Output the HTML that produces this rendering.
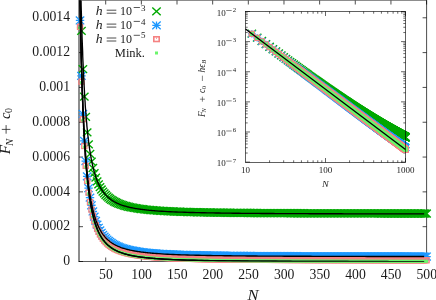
<!DOCTYPE html>
<html><head><meta charset="utf-8"><title>plot</title><style>html,body{margin:0;padding:0;background:#fff;overflow:hidden}body{width:436px;height:300px;position:relative;font-family:"Liberation Serif",serif}</style></head><body><svg width="436" height="300" viewBox="0 0 436 300" style="position:absolute;left:0;top:0;will-change:transform">
<rect width="436" height="300" fill="#fff"/>
<defs>
<path id="gx" d="M-4.2,-3.9L4.2,3.9M-4.2,3.9L4.2,-3.9" stroke="#00a800" stroke-width="1.4" fill="none"/>
<path id="bs" d="M-4.2,-3.9L4.2,3.9M-4.2,3.9L4.2,-3.9M-4.2,0L4.2,0M0,-3.9L0,3.9" stroke="#1c98ff" stroke-width="1.3" fill="none"/>
<g id="ps"><rect x="-2.55" y="-2.5" width="5.1" height="5" stroke="#f58282" stroke-width="1.3" fill="none"/><rect x="-0.5" y="-0.6" width="1" height="1.1" fill="#f58282"/></g>
<rect id="mk" x="-1.5" y="-1.5" width="3" height="3" fill="#6cf56c"/>
<rect id="mk2" x="-2" y="-2" width="4" height="4" fill="#6cf56c"/>
<path id="bs2" d="M-3.65,-3.39L3.65,3.39M-3.65,3.39L3.65,-3.39M-3.86,0L3.86,0M0,-3.59L0,3.59" stroke="#1c98ff" stroke-width="1.3" fill="none"/>
<clipPath id="cm"><rect x="79" y="0.5" width="347.6" height="261"/></clipPath>
</defs>
<path d="M79.0,-0.5V261.8" stroke="#000" stroke-width="0.9"/>
<path d="M78.6,261.5H426.90000000000003" stroke="#000" stroke-width="0.65"/>
<path d="M426.6,-0.5V261.8" stroke="#000" stroke-width="0.7"/>
<path d="M79.0,0.25H426.6" stroke="#000" stroke-width="0.6"/>
<path d="M105.70,261.5v-4M105.70,0.5v4M141.36,261.5v-4M141.36,0.5v4M177.01,261.5v-4M177.01,0.5v4M212.66,261.5v-4M212.66,0.5v4M248.32,261.5v-4M248.32,0.5v4M283.97,261.5v-4M283.97,0.5v4M319.63,261.5v-4M319.63,0.5v4M355.28,261.5v-4M355.28,0.5v4M390.94,261.5v-4M390.94,0.5v4M426.59,261.5v-4M426.59,0.5v4M79.0,261.50h4M426.6,261.50h-4M79.0,226.68h4M426.6,226.68h-4M79.0,191.87h4M426.6,191.87h-4M79.0,157.05h4M426.6,157.05h-4M79.0,122.24h4M426.6,122.24h-4M79.0,87.42h4M426.6,87.42h-4M79.0,52.60h4M426.6,52.60h-4M79.0,17.79h4M426.6,17.79h-4" stroke="#000" stroke-width="0.7" fill="none"/>
<g><use href="#gx" x="81.45" y="30.80"/><use href="#gx" x="82.88" y="69.19"/><use href="#gx" x="84.31" y="96.65"/><use href="#gx" x="85.73" y="116.96"/><use href="#gx" x="87.16" y="132.42"/><use href="#gx" x="88.59" y="144.44"/><use href="#gx" x="90.01" y="153.99"/><use href="#gx" x="91.44" y="161.68"/><use href="#gx" x="92.86" y="167.99"/><use href="#gx" x="94.29" y="173.21"/><use href="#gx" x="95.72" y="177.58"/><use href="#gx" x="97.14" y="181.29"/><use href="#gx" x="98.57" y="184.45"/><use href="#gx" x="100.00" y="187.17"/><use href="#gx" x="101.42" y="189.53"/><use href="#gx" x="102.85" y="191.58"/><use href="#gx" x="104.27" y="193.39"/><use href="#gx" x="105.70" y="194.98"/><use href="#gx" x="107.13" y="196.40"/><use href="#gx" x="108.55" y="197.66"/><use href="#gx" x="109.98" y="198.78"/><use href="#gx" x="111.40" y="199.79"/><use href="#gx" x="112.83" y="200.71"/><use href="#gx" x="114.26" y="201.53"/><use href="#gx" x="115.68" y="202.28"/><use href="#gx" x="117.11" y="202.96"/><use href="#gx" x="118.54" y="203.59"/><use href="#gx" x="119.96" y="204.16"/><use href="#gx" x="121.39" y="204.68"/><use href="#gx" x="122.81" y="205.16"/><use href="#gx" x="124.24" y="205.61"/><use href="#gx" x="125.67" y="206.02"/><use href="#gx" x="127.09" y="206.40"/><use href="#gx" x="128.52" y="206.75"/><use href="#gx" x="129.95" y="207.08"/><use href="#gx" x="131.37" y="207.38"/><use href="#gx" x="132.80" y="207.67"/><use href="#gx" x="134.22" y="207.93"/><use href="#gx" x="135.65" y="208.18"/><use href="#gx" x="137.08" y="208.42"/><use href="#gx" x="138.50" y="208.63"/><use href="#gx" x="139.93" y="208.84"/><use href="#gx" x="141.36" y="209.03"/><use href="#gx" x="142.78" y="209.21"/><use href="#gx" x="144.21" y="209.39"/><use href="#gx" x="145.63" y="209.55"/><use href="#gx" x="147.06" y="209.70"/><use href="#gx" x="148.49" y="209.84"/><use href="#gx" x="149.91" y="209.98"/><use href="#gx" x="151.34" y="210.11"/><use href="#gx" x="152.76" y="210.23"/><use href="#gx" x="154.19" y="210.35"/><use href="#gx" x="155.62" y="210.46"/><use href="#gx" x="157.04" y="210.57"/><use href="#gx" x="158.47" y="210.67"/><use href="#gx" x="159.90" y="210.77"/><use href="#gx" x="161.32" y="210.86"/><use href="#gx" x="162.75" y="210.94"/><use href="#gx" x="164.17" y="211.03"/><use href="#gx" x="165.60" y="211.11"/><use href="#gx" x="167.03" y="211.18"/><use href="#gx" x="168.45" y="211.26"/><use href="#gx" x="169.88" y="211.33"/><use href="#gx" x="171.31" y="211.39"/><use href="#gx" x="172.73" y="211.46"/><use href="#gx" x="174.16" y="211.52"/><use href="#gx" x="175.58" y="211.58"/><use href="#gx" x="177.01" y="211.63"/><use href="#gx" x="178.44" y="211.69"/><use href="#gx" x="179.86" y="211.74"/><use href="#gx" x="181.29" y="211.79"/><use href="#gx" x="182.71" y="211.84"/><use href="#gx" x="184.14" y="211.89"/><use href="#gx" x="185.57" y="211.93"/><use href="#gx" x="186.99" y="211.97"/><use href="#gx" x="188.42" y="212.02"/><use href="#gx" x="189.85" y="212.06"/><use href="#gx" x="191.27" y="212.09"/><use href="#gx" x="192.70" y="212.13"/><use href="#gx" x="194.12" y="212.17"/><use href="#gx" x="195.55" y="212.20"/><use href="#gx" x="196.98" y="212.24"/><use href="#gx" x="198.40" y="212.27"/><use href="#gx" x="199.83" y="212.30"/><use href="#gx" x="201.26" y="212.33"/><use href="#gx" x="202.68" y="212.36"/><use href="#gx" x="204.11" y="212.39"/><use href="#gx" x="205.53" y="212.42"/><use href="#gx" x="206.96" y="212.44"/><use href="#gx" x="208.39" y="212.47"/><use href="#gx" x="209.81" y="212.50"/><use href="#gx" x="211.24" y="212.52"/><use href="#gx" x="212.66" y="212.54"/><use href="#gx" x="214.09" y="212.57"/><use href="#gx" x="215.52" y="212.59"/><use href="#gx" x="216.94" y="212.61"/><use href="#gx" x="218.37" y="212.63"/><use href="#gx" x="219.80" y="212.65"/><use href="#gx" x="221.22" y="212.67"/><use href="#gx" x="222.65" y="212.69"/><use href="#gx" x="224.07" y="212.71"/><use href="#gx" x="225.50" y="212.73"/><use href="#gx" x="226.93" y="212.75"/><use href="#gx" x="228.35" y="212.76"/><use href="#gx" x="229.78" y="212.78"/><use href="#gx" x="231.21" y="212.80"/><use href="#gx" x="232.63" y="212.81"/><use href="#gx" x="234.06" y="212.83"/><use href="#gx" x="235.48" y="212.85"/><use href="#gx" x="236.91" y="212.86"/><use href="#gx" x="238.34" y="212.87"/><use href="#gx" x="239.76" y="212.89"/><use href="#gx" x="241.19" y="212.90"/><use href="#gx" x="242.62" y="212.92"/><use href="#gx" x="244.04" y="212.93"/><use href="#gx" x="245.47" y="212.94"/><use href="#gx" x="246.89" y="212.95"/><use href="#gx" x="248.32" y="212.97"/><use href="#gx" x="249.75" y="212.98"/><use href="#gx" x="251.17" y="212.99"/><use href="#gx" x="252.60" y="213.00"/><use href="#gx" x="254.02" y="213.01"/><use href="#gx" x="255.45" y="213.02"/><use href="#gx" x="256.88" y="213.03"/><use href="#gx" x="258.30" y="213.04"/><use href="#gx" x="259.73" y="213.05"/><use href="#gx" x="261.16" y="213.06"/><use href="#gx" x="262.58" y="213.07"/><use href="#gx" x="264.01" y="213.08"/><use href="#gx" x="265.43" y="213.09"/><use href="#gx" x="266.86" y="213.10"/><use href="#gx" x="268.29" y="213.11"/><use href="#gx" x="269.71" y="213.12"/><use href="#gx" x="271.14" y="213.13"/><use href="#gx" x="272.57" y="213.13"/><use href="#gx" x="273.99" y="213.14"/><use href="#gx" x="275.42" y="213.15"/><use href="#gx" x="276.84" y="213.16"/><use href="#gx" x="278.27" y="213.17"/><use href="#gx" x="279.70" y="213.17"/><use href="#gx" x="281.12" y="213.18"/><use href="#gx" x="282.55" y="213.19"/><use href="#gx" x="283.97" y="213.19"/><use href="#gx" x="285.40" y="213.20"/><use href="#gx" x="286.83" y="213.21"/><use href="#gx" x="288.25" y="213.21"/><use href="#gx" x="289.68" y="213.22"/><use href="#gx" x="291.11" y="213.23"/><use href="#gx" x="292.53" y="213.23"/><use href="#gx" x="293.96" y="213.24"/><use href="#gx" x="295.38" y="213.25"/><use href="#gx" x="296.81" y="213.25"/><use href="#gx" x="298.24" y="213.26"/><use href="#gx" x="299.66" y="213.26"/><use href="#gx" x="301.09" y="213.27"/><use href="#gx" x="302.52" y="213.27"/><use href="#gx" x="303.94" y="213.28"/><use href="#gx" x="305.37" y="213.29"/><use href="#gx" x="306.79" y="213.29"/><use href="#gx" x="308.22" y="213.30"/><use href="#gx" x="309.65" y="213.30"/><use href="#gx" x="311.07" y="213.31"/><use href="#gx" x="312.50" y="213.31"/><use href="#gx" x="313.93" y="213.31"/><use href="#gx" x="315.35" y="213.32"/><use href="#gx" x="316.78" y="213.32"/><use href="#gx" x="318.20" y="213.33"/><use href="#gx" x="319.63" y="213.33"/><use href="#gx" x="321.06" y="213.34"/><use href="#gx" x="322.48" y="213.34"/><use href="#gx" x="323.91" y="213.35"/><use href="#gx" x="325.33" y="213.35"/><use href="#gx" x="326.76" y="213.35"/><use href="#gx" x="328.19" y="213.36"/><use href="#gx" x="329.61" y="213.36"/><use href="#gx" x="331.04" y="213.37"/><use href="#gx" x="332.47" y="213.37"/><use href="#gx" x="333.89" y="213.37"/><use href="#gx" x="335.32" y="213.38"/><use href="#gx" x="336.74" y="213.38"/><use href="#gx" x="338.17" y="213.38"/><use href="#gx" x="339.60" y="213.39"/><use href="#gx" x="341.02" y="213.39"/><use href="#gx" x="342.45" y="213.39"/><use href="#gx" x="343.88" y="213.40"/><use href="#gx" x="345.30" y="213.40"/><use href="#gx" x="346.73" y="213.40"/><use href="#gx" x="348.15" y="213.41"/><use href="#gx" x="349.58" y="213.41"/><use href="#gx" x="351.01" y="213.41"/><use href="#gx" x="352.43" y="213.42"/><use href="#gx" x="353.86" y="213.42"/><use href="#gx" x="355.28" y="213.42"/><use href="#gx" x="356.71" y="213.43"/><use href="#gx" x="358.14" y="213.43"/><use href="#gx" x="359.56" y="213.43"/><use href="#gx" x="360.99" y="213.43"/><use href="#gx" x="362.42" y="213.44"/><use href="#gx" x="363.84" y="213.44"/><use href="#gx" x="365.27" y="213.44"/><use href="#gx" x="366.69" y="213.44"/><use href="#gx" x="368.12" y="213.45"/><use href="#gx" x="369.55" y="213.45"/><use href="#gx" x="370.97" y="213.45"/><use href="#gx" x="372.40" y="213.45"/><use href="#gx" x="373.83" y="213.46"/><use href="#gx" x="375.25" y="213.46"/><use href="#gx" x="376.68" y="213.46"/><use href="#gx" x="378.10" y="213.46"/><use href="#gx" x="379.53" y="213.47"/><use href="#gx" x="380.96" y="213.47"/><use href="#gx" x="382.38" y="213.47"/><use href="#gx" x="383.81" y="213.47"/><use href="#gx" x="385.24" y="213.48"/><use href="#gx" x="386.66" y="213.48"/><use href="#gx" x="388.09" y="213.48"/><use href="#gx" x="389.51" y="213.48"/><use href="#gx" x="390.94" y="213.48"/><use href="#gx" x="392.37" y="213.49"/><use href="#gx" x="393.79" y="213.49"/><use href="#gx" x="395.22" y="213.49"/><use href="#gx" x="396.64" y="213.49"/><use href="#gx" x="398.07" y="213.49"/><use href="#gx" x="399.50" y="213.50"/><use href="#gx" x="400.92" y="213.50"/><use href="#gx" x="402.35" y="213.50"/><use href="#gx" x="403.78" y="213.50"/><use href="#gx" x="405.20" y="213.50"/><use href="#gx" x="406.63" y="213.50"/><use href="#gx" x="408.05" y="213.51"/><use href="#gx" x="409.48" y="213.51"/><use href="#gx" x="410.91" y="213.51"/><use href="#gx" x="412.33" y="213.51"/><use href="#gx" x="413.76" y="213.51"/><use href="#gx" x="415.19" y="213.52"/><use href="#gx" x="416.61" y="213.52"/><use href="#gx" x="418.04" y="213.52"/><use href="#gx" x="419.46" y="213.52"/><use href="#gx" x="420.89" y="213.52"/><use href="#gx" x="422.32" y="213.52"/><use href="#gx" x="423.74" y="213.52"/><use href="#gx" x="425.17" y="213.53"/><use href="#gx" x="426.59" y="213.53"/></g>
<g><use href="#bs" x="80.03" y="20.46"/><use href="#bs" x="81.45" y="75.83"/><use href="#bs" x="82.88" y="113.80"/><use href="#bs" x="84.31" y="140.95"/><use href="#bs" x="85.73" y="161.04"/><use href="#bs" x="87.16" y="176.32"/><use href="#bs" x="88.59" y="188.21"/><use href="#bs" x="90.01" y="197.65"/><use href="#bs" x="91.44" y="205.26"/><use href="#bs" x="92.86" y="211.49"/><use href="#bs" x="94.29" y="216.66"/><use href="#bs" x="95.72" y="220.98"/><use href="#bs" x="97.14" y="224.65"/><use href="#bs" x="98.57" y="227.77"/><use href="#bs" x="100.00" y="230.46"/><use href="#bs" x="101.42" y="232.79"/><use href="#bs" x="102.85" y="234.83"/><use href="#bs" x="104.27" y="236.62"/><use href="#bs" x="105.70" y="238.19"/><use href="#bs" x="107.13" y="239.59"/><use href="#bs" x="108.55" y="240.83"/><use href="#bs" x="109.98" y="241.95"/><use href="#bs" x="111.40" y="242.95"/><use href="#bs" x="112.83" y="243.85"/><use href="#bs" x="114.26" y="244.67"/><use href="#bs" x="115.68" y="245.41"/><use href="#bs" x="117.11" y="246.08"/><use href="#bs" x="118.54" y="246.70"/><use href="#bs" x="119.96" y="247.26"/><use href="#bs" x="121.39" y="247.78"/><use href="#bs" x="122.81" y="248.26"/><use href="#bs" x="124.24" y="248.70"/><use href="#bs" x="125.67" y="249.10"/><use href="#bs" x="127.09" y="249.48"/><use href="#bs" x="128.52" y="249.83"/><use href="#bs" x="129.95" y="250.15"/><use href="#bs" x="131.37" y="250.45"/><use href="#bs" x="132.80" y="250.73"/><use href="#bs" x="134.22" y="251.00"/><use href="#bs" x="135.65" y="251.24"/><use href="#bs" x="137.08" y="251.47"/><use href="#bs" x="138.50" y="251.69"/><use href="#bs" x="139.93" y="251.89"/><use href="#bs" x="141.36" y="252.08"/><use href="#bs" x="142.78" y="252.26"/><use href="#bs" x="144.21" y="252.43"/><use href="#bs" x="145.63" y="252.59"/><use href="#bs" x="147.06" y="252.74"/><use href="#bs" x="148.49" y="252.89"/><use href="#bs" x="149.91" y="253.02"/><use href="#bs" x="151.34" y="253.15"/><use href="#bs" x="152.76" y="253.27"/><use href="#bs" x="154.19" y="253.39"/><use href="#bs" x="155.62" y="253.50"/><use href="#bs" x="157.04" y="253.60"/><use href="#bs" x="158.47" y="253.70"/><use href="#bs" x="159.90" y="253.80"/><use href="#bs" x="161.32" y="253.89"/><use href="#bs" x="162.75" y="253.97"/><use href="#bs" x="164.17" y="254.06"/><use href="#bs" x="165.60" y="254.13"/><use href="#bs" x="167.03" y="254.21"/><use href="#bs" x="168.45" y="254.28"/><use href="#bs" x="169.88" y="254.35"/><use href="#bs" x="171.31" y="254.42"/><use href="#bs" x="172.73" y="254.48"/><use href="#bs" x="174.16" y="254.54"/><use href="#bs" x="175.58" y="254.60"/><use href="#bs" x="177.01" y="254.65"/><use href="#bs" x="178.44" y="254.71"/><use href="#bs" x="179.86" y="254.76"/><use href="#bs" x="181.29" y="254.81"/><use href="#bs" x="182.71" y="254.86"/><use href="#bs" x="184.14" y="254.90"/><use href="#bs" x="185.57" y="254.95"/><use href="#bs" x="186.99" y="254.99"/><use href="#bs" x="188.42" y="255.03"/><use href="#bs" x="189.85" y="255.07"/><use href="#bs" x="191.27" y="255.11"/><use href="#bs" x="192.70" y="255.15"/><use href="#bs" x="194.12" y="255.18"/><use href="#bs" x="195.55" y="255.22"/><use href="#bs" x="196.98" y="255.25"/><use href="#bs" x="198.40" y="255.28"/><use href="#bs" x="199.83" y="255.31"/><use href="#bs" x="201.26" y="255.35"/><use href="#bs" x="202.68" y="255.37"/><use href="#bs" x="204.11" y="255.40"/><use href="#bs" x="205.53" y="255.43"/><use href="#bs" x="206.96" y="255.46"/><use href="#bs" x="208.39" y="255.48"/><use href="#bs" x="209.81" y="255.51"/><use href="#bs" x="211.24" y="255.53"/><use href="#bs" x="212.66" y="255.56"/><use href="#bs" x="214.09" y="255.58"/><use href="#bs" x="215.52" y="255.60"/><use href="#bs" x="216.94" y="255.62"/><use href="#bs" x="218.37" y="255.64"/><use href="#bs" x="219.80" y="255.66"/><use href="#bs" x="221.22" y="255.68"/><use href="#bs" x="222.65" y="255.70"/><use href="#bs" x="224.07" y="255.72"/><use href="#bs" x="225.50" y="255.74"/><use href="#bs" x="226.93" y="255.76"/><use href="#bs" x="228.35" y="255.77"/><use href="#bs" x="229.78" y="255.79"/><use href="#bs" x="231.21" y="255.81"/><use href="#bs" x="232.63" y="255.82"/><use href="#bs" x="234.06" y="255.84"/><use href="#bs" x="235.48" y="255.85"/><use href="#bs" x="236.91" y="255.87"/><use href="#bs" x="238.34" y="255.88"/><use href="#bs" x="239.76" y="255.90"/><use href="#bs" x="241.19" y="255.91"/><use href="#bs" x="242.62" y="255.92"/><use href="#bs" x="244.04" y="255.94"/><use href="#bs" x="245.47" y="255.95"/><use href="#bs" x="246.89" y="255.96"/><use href="#bs" x="248.32" y="255.97"/><use href="#bs" x="249.75" y="255.98"/><use href="#bs" x="251.17" y="256.00"/><use href="#bs" x="252.60" y="256.01"/><use href="#bs" x="254.02" y="256.02"/><use href="#bs" x="255.45" y="256.03"/><use href="#bs" x="256.88" y="256.04"/><use href="#bs" x="258.30" y="256.05"/><use href="#bs" x="259.73" y="256.06"/><use href="#bs" x="261.16" y="256.07"/><use href="#bs" x="262.58" y="256.08"/><use href="#bs" x="264.01" y="256.09"/><use href="#bs" x="265.43" y="256.10"/><use href="#bs" x="266.86" y="256.10"/><use href="#bs" x="268.29" y="256.11"/><use href="#bs" x="269.71" y="256.12"/><use href="#bs" x="271.14" y="256.13"/><use href="#bs" x="272.57" y="256.14"/><use href="#bs" x="273.99" y="256.15"/><use href="#bs" x="275.42" y="256.15"/><use href="#bs" x="276.84" y="256.16"/><use href="#bs" x="278.27" y="256.17"/><use href="#bs" x="279.70" y="256.18"/><use href="#bs" x="281.12" y="256.18"/><use href="#bs" x="282.55" y="256.19"/><use href="#bs" x="283.97" y="256.20"/><use href="#bs" x="285.40" y="256.21"/><use href="#bs" x="286.83" y="256.21"/><use href="#bs" x="288.25" y="256.22"/><use href="#bs" x="289.68" y="256.22"/><use href="#bs" x="291.11" y="256.23"/><use href="#bs" x="292.53" y="256.24"/><use href="#bs" x="293.96" y="256.24"/><use href="#bs" x="295.38" y="256.25"/><use href="#bs" x="296.81" y="256.25"/><use href="#bs" x="298.24" y="256.26"/><use href="#bs" x="299.66" y="256.27"/><use href="#bs" x="301.09" y="256.27"/><use href="#bs" x="302.52" y="256.28"/><use href="#bs" x="303.94" y="256.28"/><use href="#bs" x="305.37" y="256.29"/><use href="#bs" x="306.79" y="256.29"/><use href="#bs" x="308.22" y="256.30"/><use href="#bs" x="309.65" y="256.30"/><use href="#bs" x="311.07" y="256.31"/><use href="#bs" x="312.50" y="256.31"/><use href="#bs" x="313.93" y="256.32"/><use href="#bs" x="315.35" y="256.32"/><use href="#bs" x="316.78" y="256.33"/><use href="#bs" x="318.20" y="256.33"/><use href="#bs" x="319.63" y="256.33"/><use href="#bs" x="321.06" y="256.34"/><use href="#bs" x="322.48" y="256.34"/><use href="#bs" x="323.91" y="256.35"/><use href="#bs" x="325.33" y="256.35"/><use href="#bs" x="326.76" y="256.36"/><use href="#bs" x="328.19" y="256.36"/><use href="#bs" x="329.61" y="256.36"/><use href="#bs" x="331.04" y="256.37"/><use href="#bs" x="332.47" y="256.37"/><use href="#bs" x="333.89" y="256.37"/><use href="#bs" x="335.32" y="256.38"/><use href="#bs" x="336.74" y="256.38"/><use href="#bs" x="338.17" y="256.39"/><use href="#bs" x="339.60" y="256.39"/><use href="#bs" x="341.02" y="256.39"/><use href="#bs" x="342.45" y="256.40"/><use href="#bs" x="343.88" y="256.40"/><use href="#bs" x="345.30" y="256.40"/><use href="#bs" x="346.73" y="256.41"/><use href="#bs" x="348.15" y="256.41"/><use href="#bs" x="349.58" y="256.41"/><use href="#bs" x="351.01" y="256.41"/><use href="#bs" x="352.43" y="256.42"/><use href="#bs" x="353.86" y="256.42"/><use href="#bs" x="355.28" y="256.42"/><use href="#bs" x="356.71" y="256.43"/><use href="#bs" x="358.14" y="256.43"/><use href="#bs" x="359.56" y="256.43"/><use href="#bs" x="360.99" y="256.43"/><use href="#bs" x="362.42" y="256.44"/><use href="#bs" x="363.84" y="256.44"/><use href="#bs" x="365.27" y="256.44"/><use href="#bs" x="366.69" y="256.45"/><use href="#bs" x="368.12" y="256.45"/><use href="#bs" x="369.55" y="256.45"/><use href="#bs" x="370.97" y="256.45"/><use href="#bs" x="372.40" y="256.46"/><use href="#bs" x="373.83" y="256.46"/><use href="#bs" x="375.25" y="256.46"/><use href="#bs" x="376.68" y="256.46"/><use href="#bs" x="378.10" y="256.46"/><use href="#bs" x="379.53" y="256.47"/><use href="#bs" x="380.96" y="256.47"/><use href="#bs" x="382.38" y="256.47"/><use href="#bs" x="383.81" y="256.47"/><use href="#bs" x="385.24" y="256.48"/><use href="#bs" x="386.66" y="256.48"/><use href="#bs" x="388.09" y="256.48"/><use href="#bs" x="389.51" y="256.48"/><use href="#bs" x="390.94" y="256.48"/><use href="#bs" x="392.37" y="256.49"/><use href="#bs" x="393.79" y="256.49"/><use href="#bs" x="395.22" y="256.49"/><use href="#bs" x="396.64" y="256.49"/><use href="#bs" x="398.07" y="256.49"/><use href="#bs" x="399.50" y="256.50"/><use href="#bs" x="400.92" y="256.50"/><use href="#bs" x="402.35" y="256.50"/><use href="#bs" x="403.78" y="256.50"/><use href="#bs" x="405.20" y="256.50"/><use href="#bs" x="406.63" y="256.50"/><use href="#bs" x="408.05" y="256.51"/><use href="#bs" x="409.48" y="256.51"/><use href="#bs" x="410.91" y="256.51"/><use href="#bs" x="412.33" y="256.51"/><use href="#bs" x="413.76" y="256.51"/><use href="#bs" x="415.19" y="256.52"/><use href="#bs" x="416.61" y="256.52"/><use href="#bs" x="418.04" y="256.52"/><use href="#bs" x="419.46" y="256.52"/><use href="#bs" x="420.89" y="256.52"/><use href="#bs" x="422.32" y="256.52"/><use href="#bs" x="423.74" y="256.52"/><use href="#bs" x="425.17" y="256.53"/><use href="#bs" x="426.59" y="256.53"/></g>
<g><use href="#ps" x="80.03" y="26.87"/><use href="#ps" x="81.45" y="81.62"/><use href="#ps" x="82.88" y="119.15"/><use href="#ps" x="84.31" y="146.00"/><use href="#ps" x="85.73" y="165.86"/><use href="#ps" x="87.16" y="180.97"/><use href="#ps" x="88.59" y="192.73"/><use href="#ps" x="90.01" y="202.06"/><use href="#ps" x="91.44" y="209.59"/><use href="#ps" x="92.86" y="215.75"/><use href="#ps" x="94.29" y="220.85"/><use href="#ps" x="95.72" y="225.13"/><use href="#ps" x="97.14" y="228.75"/><use href="#ps" x="98.57" y="231.84"/><use href="#ps" x="100.00" y="234.50"/><use href="#ps" x="101.42" y="236.81"/><use href="#ps" x="102.85" y="238.82"/><use href="#ps" x="104.27" y="240.58"/><use href="#ps" x="105.70" y="242.14"/><use href="#ps" x="107.13" y="243.52"/><use href="#ps" x="108.55" y="244.75"/><use href="#ps" x="109.98" y="245.86"/><use href="#ps" x="111.40" y="246.85"/><use href="#ps" x="112.83" y="247.74"/><use href="#ps" x="114.26" y="248.55"/><use href="#ps" x="115.68" y="249.28"/><use href="#ps" x="117.11" y="249.95"/><use href="#ps" x="118.54" y="250.55"/><use href="#ps" x="119.96" y="251.11"/><use href="#ps" x="121.39" y="251.62"/><use href="#ps" x="122.81" y="252.09"/><use href="#ps" x="124.24" y="252.53"/><use href="#ps" x="125.67" y="252.93"/><use href="#ps" x="127.09" y="253.30"/><use href="#ps" x="128.52" y="253.65"/><use href="#ps" x="129.95" y="253.97"/><use href="#ps" x="131.37" y="254.27"/><use href="#ps" x="132.80" y="254.54"/><use href="#ps" x="134.22" y="254.80"/><use href="#ps" x="135.65" y="255.05"/><use href="#ps" x="137.08" y="255.27"/><use href="#ps" x="138.50" y="255.49"/><use href="#ps" x="139.93" y="255.69"/><use href="#ps" x="141.36" y="255.88"/><use href="#ps" x="142.78" y="256.05"/><use href="#ps" x="144.21" y="256.22"/><use href="#ps" x="145.63" y="256.38"/><use href="#ps" x="147.06" y="256.53"/><use href="#ps" x="148.49" y="256.67"/><use href="#ps" x="149.91" y="256.81"/><use href="#ps" x="151.34" y="256.93"/><use href="#ps" x="152.76" y="257.05"/><use href="#ps" x="154.19" y="257.17"/><use href="#ps" x="155.62" y="257.28"/><use href="#ps" x="157.04" y="257.38"/><use href="#ps" x="158.47" y="257.48"/><use href="#ps" x="159.90" y="257.57"/><use href="#ps" x="161.32" y="257.66"/><use href="#ps" x="162.75" y="257.75"/><use href="#ps" x="164.17" y="257.83"/><use href="#ps" x="165.60" y="257.91"/><use href="#ps" x="167.03" y="257.98"/><use href="#ps" x="168.45" y="258.05"/><use href="#ps" x="169.88" y="258.12"/><use href="#ps" x="171.31" y="258.18"/><use href="#ps" x="172.73" y="258.25"/><use href="#ps" x="174.16" y="258.31"/><use href="#ps" x="175.58" y="258.37"/><use href="#ps" x="177.01" y="258.42"/><use href="#ps" x="178.44" y="258.47"/><use href="#ps" x="179.86" y="258.53"/><use href="#ps" x="181.29" y="258.57"/><use href="#ps" x="182.71" y="258.62"/><use href="#ps" x="184.14" y="258.67"/><use href="#ps" x="185.57" y="258.71"/><use href="#ps" x="186.99" y="258.75"/><use href="#ps" x="188.42" y="258.79"/><use href="#ps" x="189.85" y="258.83"/><use href="#ps" x="191.27" y="258.87"/><use href="#ps" x="192.70" y="258.91"/><use href="#ps" x="194.12" y="258.94"/><use href="#ps" x="195.55" y="258.98"/><use href="#ps" x="196.98" y="259.01"/><use href="#ps" x="198.40" y="259.04"/><use href="#ps" x="199.83" y="259.07"/><use href="#ps" x="201.26" y="259.10"/><use href="#ps" x="202.68" y="259.13"/><use href="#ps" x="204.11" y="259.16"/><use href="#ps" x="205.53" y="259.19"/><use href="#ps" x="206.96" y="259.21"/><use href="#ps" x="208.39" y="259.24"/><use href="#ps" x="209.81" y="259.26"/><use href="#ps" x="211.24" y="259.29"/><use href="#ps" x="212.66" y="259.31"/><use href="#ps" x="214.09" y="259.33"/><use href="#ps" x="215.52" y="259.36"/><use href="#ps" x="216.94" y="259.38"/><use href="#ps" x="218.37" y="259.40"/><use href="#ps" x="219.80" y="259.42"/><use href="#ps" x="221.22" y="259.44"/><use href="#ps" x="222.65" y="259.46"/><use href="#ps" x="224.07" y="259.47"/><use href="#ps" x="225.50" y="259.49"/><use href="#ps" x="226.93" y="259.51"/><use href="#ps" x="228.35" y="259.53"/><use href="#ps" x="229.78" y="259.54"/><use href="#ps" x="231.21" y="259.56"/><use href="#ps" x="232.63" y="259.57"/><use href="#ps" x="234.06" y="259.59"/><use href="#ps" x="235.48" y="259.60"/><use href="#ps" x="236.91" y="259.62"/><use href="#ps" x="238.34" y="259.63"/><use href="#ps" x="239.76" y="259.65"/><use href="#ps" x="241.19" y="259.66"/><use href="#ps" x="242.62" y="259.67"/><use href="#ps" x="244.04" y="259.69"/><use href="#ps" x="245.47" y="259.70"/><use href="#ps" x="246.89" y="259.71"/><use href="#ps" x="248.32" y="259.72"/><use href="#ps" x="249.75" y="259.73"/><use href="#ps" x="251.17" y="259.75"/><use href="#ps" x="252.60" y="259.76"/><use href="#ps" x="254.02" y="259.77"/><use href="#ps" x="255.45" y="259.78"/><use href="#ps" x="256.88" y="259.79"/><use href="#ps" x="258.30" y="259.80"/><use href="#ps" x="259.73" y="259.81"/><use href="#ps" x="261.16" y="259.82"/><use href="#ps" x="262.58" y="259.83"/><use href="#ps" x="264.01" y="259.84"/><use href="#ps" x="265.43" y="259.85"/><use href="#ps" x="266.86" y="259.85"/><use href="#ps" x="268.29" y="259.86"/><use href="#ps" x="269.71" y="259.87"/><use href="#ps" x="271.14" y="259.88"/><use href="#ps" x="272.57" y="259.89"/><use href="#ps" x="273.99" y="259.90"/><use href="#ps" x="275.42" y="259.90"/><use href="#ps" x="276.84" y="259.91"/><use href="#ps" x="278.27" y="259.92"/><use href="#ps" x="279.70" y="259.93"/><use href="#ps" x="281.12" y="259.93"/><use href="#ps" x="282.55" y="259.94"/><use href="#ps" x="283.97" y="259.95"/><use href="#ps" x="285.40" y="259.95"/><use href="#ps" x="286.83" y="259.96"/><use href="#ps" x="288.25" y="259.97"/><use href="#ps" x="289.68" y="259.97"/><use href="#ps" x="291.11" y="259.98"/><use href="#ps" x="292.53" y="259.99"/><use href="#ps" x="293.96" y="259.99"/><use href="#ps" x="295.38" y="260.00"/><use href="#ps" x="296.81" y="260.00"/><use href="#ps" x="298.24" y="260.01"/><use href="#ps" x="299.66" y="260.01"/><use href="#ps" x="301.09" y="260.02"/><use href="#ps" x="302.52" y="260.02"/><use href="#ps" x="303.94" y="260.03"/><use href="#ps" x="305.37" y="260.04"/><use href="#ps" x="306.79" y="260.04"/><use href="#ps" x="308.22" y="260.05"/><use href="#ps" x="309.65" y="260.05"/><use href="#ps" x="311.07" y="260.05"/><use href="#ps" x="312.50" y="260.06"/><use href="#ps" x="313.93" y="260.06"/><use href="#ps" x="315.35" y="260.07"/><use href="#ps" x="316.78" y="260.07"/><use href="#ps" x="318.20" y="260.08"/><use href="#ps" x="319.63" y="260.08"/><use href="#ps" x="321.06" y="260.09"/><use href="#ps" x="322.48" y="260.09"/><use href="#ps" x="323.91" y="260.09"/><use href="#ps" x="325.33" y="260.10"/><use href="#ps" x="326.76" y="260.10"/><use href="#ps" x="328.19" y="260.11"/><use href="#ps" x="329.61" y="260.11"/><use href="#ps" x="331.04" y="260.11"/><use href="#ps" x="332.47" y="260.12"/><use href="#ps" x="333.89" y="260.12"/><use href="#ps" x="335.32" y="260.12"/><use href="#ps" x="336.74" y="260.13"/><use href="#ps" x="338.17" y="260.13"/><use href="#ps" x="339.60" y="260.14"/><use href="#ps" x="341.02" y="260.14"/><use href="#ps" x="342.45" y="260.14"/><use href="#ps" x="343.88" y="260.15"/><use href="#ps" x="345.30" y="260.15"/><use href="#ps" x="346.73" y="260.15"/><use href="#ps" x="348.15" y="260.15"/><use href="#ps" x="349.58" y="260.16"/><use href="#ps" x="351.01" y="260.16"/><use href="#ps" x="352.43" y="260.16"/><use href="#ps" x="353.86" y="260.17"/><use href="#ps" x="355.28" y="260.17"/><use href="#ps" x="356.71" y="260.17"/><use href="#ps" x="358.14" y="260.18"/><use href="#ps" x="359.56" y="260.18"/><use href="#ps" x="360.99" y="260.18"/><use href="#ps" x="362.42" y="260.18"/><use href="#ps" x="363.84" y="260.19"/><use href="#ps" x="365.27" y="260.19"/><use href="#ps" x="366.69" y="260.19"/><use href="#ps" x="368.12" y="260.19"/><use href="#ps" x="369.55" y="260.20"/><use href="#ps" x="370.97" y="260.20"/><use href="#ps" x="372.40" y="260.20"/><use href="#ps" x="373.83" y="260.20"/><use href="#ps" x="375.25" y="260.21"/><use href="#ps" x="376.68" y="260.21"/><use href="#ps" x="378.10" y="260.21"/><use href="#ps" x="379.53" y="260.21"/><use href="#ps" x="380.96" y="260.21"/><use href="#ps" x="382.38" y="260.22"/><use href="#ps" x="383.81" y="260.22"/><use href="#ps" x="385.24" y="260.22"/><use href="#ps" x="386.66" y="260.22"/><use href="#ps" x="388.09" y="260.23"/><use href="#ps" x="389.51" y="260.23"/><use href="#ps" x="390.94" y="260.23"/><use href="#ps" x="392.37" y="260.23"/><use href="#ps" x="393.79" y="260.23"/><use href="#ps" x="395.22" y="260.24"/><use href="#ps" x="396.64" y="260.24"/><use href="#ps" x="398.07" y="260.24"/><use href="#ps" x="399.50" y="260.24"/><use href="#ps" x="400.92" y="260.24"/><use href="#ps" x="402.35" y="260.24"/><use href="#ps" x="403.78" y="260.25"/><use href="#ps" x="405.20" y="260.25"/><use href="#ps" x="406.63" y="260.25"/><use href="#ps" x="408.05" y="260.25"/><use href="#ps" x="409.48" y="260.25"/><use href="#ps" x="410.91" y="260.26"/><use href="#ps" x="412.33" y="260.26"/><use href="#ps" x="413.76" y="260.26"/><use href="#ps" x="415.19" y="260.26"/><use href="#ps" x="416.61" y="260.26"/><use href="#ps" x="418.04" y="260.26"/><use href="#ps" x="419.46" y="260.26"/><use href="#ps" x="420.89" y="260.27"/><use href="#ps" x="422.32" y="260.27"/><use href="#ps" x="423.74" y="260.27"/><use href="#ps" x="425.17" y="260.27"/><use href="#ps" x="426.59" y="260.27"/></g>
<g><use href="#mk" x="80.03" y="27.91"/><use href="#mk" x="81.45" y="82.66"/><use href="#mk" x="82.88" y="120.19"/><use href="#mk" x="84.31" y="147.04"/><use href="#mk" x="85.73" y="166.91"/><use href="#mk" x="87.16" y="182.02"/><use href="#mk" x="88.59" y="193.77"/><use href="#mk" x="90.01" y="203.10"/><use href="#mk" x="91.44" y="210.63"/><use href="#mk" x="92.86" y="216.79"/><use href="#mk" x="94.29" y="221.90"/><use href="#mk" x="95.72" y="226.17"/><use href="#mk" x="97.14" y="229.79"/><use href="#mk" x="98.57" y="232.89"/><use href="#mk" x="100.00" y="235.55"/><use href="#mk" x="101.42" y="237.85"/><use href="#mk" x="102.85" y="239.86"/><use href="#mk" x="104.27" y="241.63"/><use href="#mk" x="105.70" y="243.19"/><use href="#mk" x="107.13" y="244.57"/><use href="#mk" x="108.55" y="245.80"/><use href="#mk" x="109.98" y="246.90"/><use href="#mk" x="111.40" y="247.89"/><use href="#mk" x="112.83" y="248.78"/><use href="#mk" x="114.26" y="249.59"/><use href="#mk" x="115.68" y="250.32"/><use href="#mk" x="117.11" y="250.99"/><use href="#mk" x="118.54" y="251.60"/><use href="#mk" x="119.96" y="252.16"/><use href="#mk" x="121.39" y="252.67"/><use href="#mk" x="122.81" y="253.14"/><use href="#mk" x="124.24" y="253.57"/><use href="#mk" x="125.67" y="253.97"/><use href="#mk" x="127.09" y="254.35"/><use href="#mk" x="128.52" y="254.69"/><use href="#mk" x="129.95" y="255.01"/><use href="#mk" x="131.37" y="255.31"/><use href="#mk" x="132.80" y="255.59"/><use href="#mk" x="134.22" y="255.85"/><use href="#mk" x="135.65" y="256.09"/><use href="#mk" x="137.08" y="256.32"/><use href="#mk" x="138.50" y="256.53"/><use href="#mk" x="139.93" y="256.73"/><use href="#mk" x="141.36" y="256.92"/><use href="#mk" x="142.78" y="257.10"/><use href="#mk" x="144.21" y="257.27"/><use href="#mk" x="145.63" y="257.43"/><use href="#mk" x="147.06" y="257.57"/><use href="#mk" x="148.49" y="257.72"/><use href="#mk" x="149.91" y="257.85"/><use href="#mk" x="151.34" y="257.98"/><use href="#mk" x="152.76" y="258.10"/><use href="#mk" x="154.19" y="258.21"/><use href="#mk" x="155.62" y="258.32"/><use href="#mk" x="157.04" y="258.42"/><use href="#mk" x="158.47" y="258.52"/><use href="#mk" x="159.90" y="258.62"/><use href="#mk" x="161.32" y="258.71"/><use href="#mk" x="162.75" y="258.79"/><use href="#mk" x="164.17" y="258.87"/><use href="#mk" x="165.60" y="258.95"/><use href="#mk" x="167.03" y="259.02"/><use href="#mk" x="168.45" y="259.10"/><use href="#mk" x="169.88" y="259.16"/><use href="#mk" x="171.31" y="259.23"/><use href="#mk" x="172.73" y="259.29"/><use href="#mk" x="174.16" y="259.35"/><use href="#mk" x="175.58" y="259.41"/><use href="#mk" x="177.01" y="259.47"/><use href="#mk" x="178.44" y="259.52"/><use href="#mk" x="179.86" y="259.57"/><use href="#mk" x="181.29" y="259.62"/><use href="#mk" x="182.71" y="259.67"/><use href="#mk" x="184.14" y="259.71"/><use href="#mk" x="185.57" y="259.76"/><use href="#mk" x="186.99" y="259.80"/><use href="#mk" x="188.42" y="259.84"/><use href="#mk" x="189.85" y="259.88"/><use href="#mk" x="191.27" y="259.92"/><use href="#mk" x="192.70" y="259.95"/><use href="#mk" x="194.12" y="259.99"/><use href="#mk" x="195.55" y="260.02"/><use href="#mk" x="196.98" y="260.06"/><use href="#mk" x="198.40" y="260.09"/><use href="#mk" x="199.83" y="260.12"/><use href="#mk" x="201.26" y="260.15"/><use href="#mk" x="202.68" y="260.18"/><use href="#mk" x="204.11" y="260.20"/><use href="#mk" x="205.53" y="260.23"/><use href="#mk" x="206.96" y="260.26"/><use href="#mk" x="208.39" y="260.28"/><use href="#mk" x="209.81" y="260.31"/><use href="#mk" x="211.24" y="260.33"/><use href="#mk" x="212.66" y="260.36"/><use href="#mk" x="214.09" y="260.38"/><use href="#mk" x="215.52" y="260.40"/><use href="#mk" x="216.94" y="260.42"/><use href="#mk" x="218.37" y="260.44"/><use href="#mk" x="219.80" y="260.46"/><use href="#mk" x="221.22" y="260.48"/><use href="#mk" x="222.65" y="260.50"/><use href="#mk" x="224.07" y="260.52"/><use href="#mk" x="225.50" y="260.54"/><use href="#mk" x="226.93" y="260.55"/><use href="#mk" x="228.35" y="260.57"/><use href="#mk" x="229.78" y="260.59"/><use href="#mk" x="231.21" y="260.60"/><use href="#mk" x="232.63" y="260.62"/><use href="#mk" x="234.06" y="260.63"/><use href="#mk" x="235.48" y="260.65"/><use href="#mk" x="236.91" y="260.66"/><use href="#mk" x="238.34" y="260.68"/><use href="#mk" x="239.76" y="260.69"/><use href="#mk" x="241.19" y="260.71"/><use href="#mk" x="242.62" y="260.72"/><use href="#mk" x="244.04" y="260.73"/><use href="#mk" x="245.47" y="260.74"/><use href="#mk" x="246.89" y="260.76"/><use href="#mk" x="248.32" y="260.77"/><use href="#mk" x="249.75" y="260.78"/><use href="#mk" x="251.17" y="260.79"/><use href="#mk" x="252.60" y="260.80"/><use href="#mk" x="254.02" y="260.81"/><use href="#mk" x="255.45" y="260.82"/><use href="#mk" x="256.88" y="260.83"/><use href="#mk" x="258.30" y="260.84"/><use href="#mk" x="259.73" y="260.85"/><use href="#mk" x="261.16" y="260.86"/><use href="#mk" x="262.58" y="260.87"/><use href="#mk" x="264.01" y="260.88"/><use href="#mk" x="265.43" y="260.89"/><use href="#mk" x="266.86" y="260.90"/><use href="#mk" x="268.29" y="260.91"/><use href="#mk" x="269.71" y="260.92"/><use href="#mk" x="271.14" y="260.92"/><use href="#mk" x="272.57" y="260.93"/><use href="#mk" x="273.99" y="260.94"/><use href="#mk" x="275.42" y="260.95"/><use href="#mk" x="276.84" y="260.96"/><use href="#mk" x="278.27" y="260.96"/><use href="#mk" x="279.70" y="260.97"/><use href="#mk" x="281.12" y="260.98"/><use href="#mk" x="282.55" y="260.98"/><use href="#mk" x="283.97" y="260.99"/><use href="#mk" x="285.40" y="261.00"/><use href="#mk" x="286.83" y="261.00"/><use href="#mk" x="288.25" y="261.01"/><use href="#mk" x="289.68" y="261.02"/><use href="#mk" x="291.11" y="261.02"/><use href="#mk" x="292.53" y="261.03"/><use href="#mk" x="293.96" y="261.04"/><use href="#mk" x="295.38" y="261.04"/><use href="#mk" x="296.81" y="261.05"/><use href="#mk" x="298.24" y="261.05"/><use href="#mk" x="299.66" y="261.06"/><use href="#mk" x="301.09" y="261.06"/><use href="#mk" x="302.52" y="261.07"/><use href="#mk" x="303.94" y="261.07"/><use href="#mk" x="305.37" y="261.08"/><use href="#mk" x="306.79" y="261.08"/><use href="#mk" x="308.22" y="261.09"/><use href="#mk" x="309.65" y="261.09"/><use href="#mk" x="311.07" y="261.10"/><use href="#mk" x="312.50" y="261.10"/><use href="#mk" x="313.93" y="261.11"/><use href="#mk" x="315.35" y="261.11"/><use href="#mk" x="316.78" y="261.12"/><use href="#mk" x="318.20" y="261.12"/><use href="#mk" x="319.63" y="261.13"/><use href="#mk" x="321.06" y="261.13"/><use href="#mk" x="322.48" y="261.13"/><use href="#mk" x="323.91" y="261.14"/><use href="#mk" x="325.33" y="261.14"/><use href="#mk" x="326.76" y="261.15"/><use href="#mk" x="328.19" y="261.15"/><use href="#mk" x="329.61" y="261.15"/><use href="#mk" x="331.04" y="261.16"/><use href="#mk" x="332.47" y="261.16"/><use href="#mk" x="333.89" y="261.17"/><use href="#mk" x="335.32" y="261.17"/><use href="#mk" x="336.74" y="261.17"/><use href="#mk" x="338.17" y="261.18"/><use href="#mk" x="339.60" y="261.18"/><use href="#mk" x="341.02" y="261.18"/><use href="#mk" x="342.45" y="261.19"/><use href="#mk" x="343.88" y="261.19"/><use href="#mk" x="345.30" y="261.19"/><use href="#mk" x="346.73" y="261.20"/><use href="#mk" x="348.15" y="261.20"/><use href="#mk" x="349.58" y="261.20"/><use href="#mk" x="351.01" y="261.21"/><use href="#mk" x="352.43" y="261.21"/><use href="#mk" x="353.86" y="261.21"/><use href="#mk" x="355.28" y="261.21"/><use href="#mk" x="356.71" y="261.22"/><use href="#mk" x="358.14" y="261.22"/><use href="#mk" x="359.56" y="261.22"/><use href="#mk" x="360.99" y="261.22"/><use href="#mk" x="362.42" y="261.23"/><use href="#mk" x="363.84" y="261.23"/><use href="#mk" x="365.27" y="261.23"/><use href="#mk" x="366.69" y="261.24"/><use href="#mk" x="368.12" y="261.24"/><use href="#mk" x="369.55" y="261.24"/><use href="#mk" x="370.97" y="261.24"/><use href="#mk" x="372.40" y="261.25"/><use href="#mk" x="373.83" y="261.25"/><use href="#mk" x="375.25" y="261.25"/><use href="#mk" x="376.68" y="261.25"/><use href="#mk" x="378.10" y="261.25"/><use href="#mk" x="379.53" y="261.26"/><use href="#mk" x="380.96" y="261.26"/><use href="#mk" x="382.38" y="261.26"/><use href="#mk" x="383.81" y="261.26"/><use href="#mk" x="385.24" y="261.27"/><use href="#mk" x="386.66" y="261.27"/><use href="#mk" x="388.09" y="261.27"/><use href="#mk" x="389.51" y="261.27"/><use href="#mk" x="390.94" y="261.27"/><use href="#mk" x="392.37" y="261.28"/><use href="#mk" x="393.79" y="261.28"/><use href="#mk" x="395.22" y="261.28"/><use href="#mk" x="396.64" y="261.28"/><use href="#mk" x="398.07" y="261.28"/><use href="#mk" x="399.50" y="261.29"/><use href="#mk" x="400.92" y="261.29"/><use href="#mk" x="402.35" y="261.29"/><use href="#mk" x="403.78" y="261.29"/><use href="#mk" x="405.20" y="261.29"/><use href="#mk" x="406.63" y="261.29"/><use href="#mk" x="408.05" y="261.30"/><use href="#mk" x="409.48" y="261.30"/><use href="#mk" x="410.91" y="261.30"/><use href="#mk" x="412.33" y="261.30"/><use href="#mk" x="413.76" y="261.30"/><use href="#mk" x="415.19" y="261.30"/><use href="#mk" x="416.61" y="261.31"/><use href="#mk" x="418.04" y="261.31"/><use href="#mk" x="419.46" y="261.31"/><use href="#mk" x="420.89" y="261.31"/><use href="#mk" x="422.32" y="261.31"/><use href="#mk" x="423.74" y="261.31"/><use href="#mk" x="425.17" y="261.32"/><use href="#mk" x="426.59" y="261.32"/></g>
<g clip-path="url(#cm)" fill="none" stroke="#000" stroke-width="1.35">
<path transform="translate(0.45,0)" d="M78.6,-111.08L78.8,-97.94L79.0,-85.58L79.1,-73.94L79.3,-62.97L79.5,-52.61L79.7,-42.83L79.9,-33.57L80.0,-24.80L80.2,-16.49L80.4,-8.61L80.6,-1.12L80.7,5.99L80.9,12.76L81.1,19.20L81.3,25.34L81.5,31.20L81.6,36.78L81.8,42.11L82.0,47.21L82.2,52.08L82.3,56.75L82.5,61.21L82.7,65.49L82.9,69.59L83.1,73.52L83.2,77.29L83.4,80.92L83.6,84.40L83.8,87.75L84.0,90.97L84.1,94.06L84.3,97.05L84.5,99.92L84.7,102.69L84.8,105.36L85.0,107.93L85.2,110.41L85.4,112.81L85.6,115.13L85.7,117.36L85.9,119.53L86.1,121.62L86.3,123.64L86.4,125.59L86.6,127.49L86.8,129.32L87.0,131.10L87.2,132.82L87.3,134.49L87.5,136.10L87.7,137.67L87.9,139.19L88.1,140.67L88.2,142.10L88.4,143.49L88.6,144.84L88.8,146.16L88.9,147.43L89.1,148.67L89.3,149.88L89.5,151.05L89.7,152.19L89.8,153.31L90.0,154.39L90.2,155.44L90.4,156.46L90.5,157.46L90.7,158.43L90.9,159.38L91.1,160.31L91.3,161.21L91.4,162.08L91.6,162.94L91.8,163.78L92.0,164.59L92.2,165.39L92.3,166.16L92.5,166.92L92.7,167.66L92.9,168.39L93.0,169.09L93.2,169.78L93.4,170.46L93.6,171.11L93.8,171.76L93.9,172.39L94.1,173.00L94.3,173.61L94.5,174.20L94.6,174.77L94.8,175.34L95.0,175.89L95.2,176.43L95.4,176.96L95.5,177.48L95.7,177.98L95.9,178.48L96.1,178.97L96.3,179.44L96.4,179.91L96.6,180.37L96.8,180.82L97.0,181.26L97.1,181.69L97.3,182.11L97.5,182.52L97.7,182.93L97.9,183.33L98.0,183.72L98.2,184.10L98.4,184.48L98.6,184.85L99.3,186.26L100.0,187.57L100.7,188.79L101.4,189.93L102.1,190.99L102.8,191.99L103.6,192.92L104.3,193.79L105.0,194.61L105.7,195.38L106.4,196.11L107.1,196.80L107.8,197.44L108.6,198.06L109.3,198.64L110.0,199.18L110.7,199.70L111.4,200.20L112.1,200.66L112.8,201.11L113.5,201.53L114.3,201.93L115.0,202.32L115.7,202.68L116.4,203.03L117.1,203.37L117.8,203.68L118.5,203.99L119.2,204.28L120.0,204.56L120.7,204.83L121.4,205.08L122.1,205.33L122.8,205.56L123.5,205.79L124.2,206.01L125.0,206.22L125.7,206.42L126.4,206.61L127.1,206.80L127.8,206.98L128.5,207.15L129.2,207.32L129.9,207.48L130.7,207.63L131.4,207.78L132.1,207.93L132.8,208.07L133.5,208.20L134.2,208.33L134.9,208.46L135.7,208.58L136.4,208.70L137.1,208.82L137.8,208.93L138.5,209.03L139.2,209.14L139.9,209.24L140.6,209.34L141.4,209.43L142.1,209.52L142.8,209.61L143.5,209.70L144.2,209.79L144.9,209.87L145.6,209.95L146.3,210.03L147.1,210.10L147.8,210.17L148.5,210.25L149.2,210.31L149.9,210.38L150.6,210.45L151.3,210.51L152.1,210.57L152.8,210.64L153.5,210.69L154.2,210.75L154.9,210.81L155.6,210.86L158.5,211.07L161.3,211.26L164.2,211.43L167.0,211.58L169.9,211.73L172.7,211.86L175.6,211.98L178.4,212.09L181.3,212.19L184.1,212.29L187.0,212.37L189.8,212.46L192.7,212.53L195.6,212.60L198.4,212.67L201.3,212.73L204.1,212.79L207.0,212.85L209.8,212.90L212.7,212.94L215.5,212.99L218.4,213.03L221.2,213.07L224.1,213.11L226.9,213.15L229.8,213.18L232.6,213.21L235.5,213.25L238.3,213.27L241.2,213.30L244.0,213.33L246.9,213.35L249.7,213.38L252.6,213.40L255.5,213.42L258.3,213.44L261.2,213.46L264.0,213.48L266.9,213.50L269.7,213.52L272.6,213.53L275.4,213.55L278.3,213.57L281.1,213.58L284.0,213.60L286.8,213.61L289.7,213.62L292.5,213.63L295.4,213.65L298.2,213.66L301.1,213.67L303.9,213.68L306.8,213.69L309.6,213.70L312.5,213.71L315.4,213.72L318.2,213.73L321.1,213.74L323.9,213.75L326.8,213.75L329.6,213.76L332.5,213.77L335.3,213.78L338.2,213.78L341.0,213.79L343.9,213.80L346.7,213.80L349.6,213.81L352.4,213.82L355.3,213.82L358.1,213.83L361.0,213.83L363.8,213.84L366.7,213.84L369.5,213.85L372.4,213.85L375.3,213.86L378.1,213.86L381.0,213.87L383.8,213.87L386.7,213.88L389.5,213.88L392.4,213.89L395.2,213.89L398.1,213.89L400.9,213.90L403.8,213.90L406.6,213.91L409.5,213.91L412.3,213.91L415.2,213.92L418.0,213.92L420.9,213.92L423.7,213.93"/>
<path transform="translate(0.45,0)" d="M78.6,-64.85L78.8,-51.86L79.0,-39.64L79.1,-28.13L79.3,-17.28L79.5,-7.04L79.7,2.64L79.9,11.79L80.0,20.46L80.2,28.68L80.4,36.47L80.6,43.88L80.7,50.91L80.9,57.60L81.1,63.97L81.3,70.05L81.5,75.83L81.6,81.36L81.8,86.63L82.0,91.67L82.2,96.49L82.3,101.10L82.5,105.51L82.7,109.74L82.9,113.80L83.1,117.68L83.2,121.42L83.4,125.00L83.6,128.44L83.8,131.75L84.0,134.94L84.1,138.00L84.3,140.95L84.5,143.79L84.7,146.53L84.8,149.17L85.0,151.71L85.2,154.17L85.4,156.54L85.6,158.83L85.7,161.04L85.9,163.18L86.1,165.25L86.3,167.24L86.4,169.18L86.6,171.05L86.8,172.86L87.0,174.62L87.2,176.32L87.3,177.97L87.5,179.57L87.7,181.12L87.9,182.62L88.1,184.08L88.2,185.50L88.4,186.88L88.6,188.21L88.8,189.51L88.9,190.77L89.1,192.00L89.3,193.19L89.5,194.35L89.7,195.48L89.8,196.58L90.0,197.65L90.2,198.69L90.4,199.70L90.5,200.69L90.7,201.65L90.9,202.59L91.1,203.50L91.3,204.39L91.4,205.26L91.6,206.11L91.8,206.94L92.0,207.74L92.2,208.53L92.3,209.30L92.5,210.05L92.7,210.78L92.9,211.49L93.0,212.19L93.2,212.87L93.4,213.54L93.6,214.19L93.8,214.83L93.9,215.45L94.1,216.06L94.3,216.66L94.5,217.24L94.6,217.81L94.8,218.37L95.0,218.91L95.2,219.45L95.4,219.97L95.5,220.48L95.7,220.98L95.9,221.47L96.1,221.96L96.3,222.43L96.4,222.89L96.6,223.34L96.8,223.78L97.0,224.22L97.1,224.65L97.3,225.06L97.5,225.47L97.7,225.87L97.9,226.27L98.0,226.66L98.2,227.03L98.4,227.41L98.6,227.77L99.3,229.17L100.0,230.46L100.7,231.67L101.4,232.79L102.1,233.85L102.8,234.83L103.6,235.75L104.3,236.62L105.0,237.43L105.7,238.19L106.4,238.91L107.1,239.59L107.8,240.23L108.6,240.83L109.3,241.41L110.0,241.95L110.7,242.46L111.4,242.95L112.1,243.41L112.8,243.85L113.5,244.27L114.3,244.67L115.0,245.05L115.7,245.41L116.4,245.75L117.1,246.08L117.8,246.40L118.5,246.70L119.2,246.99L120.0,247.26L120.7,247.53L121.4,247.78L122.1,248.02L122.8,248.26L123.5,248.48L124.2,248.70L125.0,248.90L125.7,249.10L126.4,249.29L127.1,249.48L127.8,249.66L128.5,249.83L129.2,249.99L129.9,250.15L130.7,250.30L131.4,250.45L132.1,250.60L132.8,250.73L133.5,250.87L134.2,251.00L134.9,251.12L135.7,251.24L136.4,251.36L137.1,251.47L137.8,251.58L138.5,251.69L139.2,251.79L139.9,251.89L140.6,251.99L141.4,252.08L142.1,252.17L142.8,252.26L143.5,252.35L144.2,252.43L144.9,252.51L145.6,252.59L146.3,252.67L147.1,252.74L147.8,252.82L148.5,252.89L149.2,252.95L149.9,253.02L150.6,253.09L151.3,253.15L152.1,253.21L152.8,253.27L153.5,253.33L154.2,253.39L154.9,253.44L155.6,253.50L158.5,253.70L161.3,253.89L164.2,254.06L167.0,254.21L169.9,254.35L172.7,254.48L175.6,254.60L178.4,254.71L181.3,254.81L184.1,254.90L187.0,254.99L189.8,255.07L192.7,255.15L195.6,255.22L198.4,255.28L201.3,255.35L204.1,255.40L207.0,255.46L209.8,255.51L212.7,255.56L215.5,255.60L218.4,255.64L221.2,255.68L224.1,255.72L226.9,255.76L229.8,255.79L232.6,255.82L235.5,255.85L238.3,255.88L241.2,255.91L244.0,255.94L246.9,255.96L249.7,255.98L252.6,256.01L255.5,256.03L258.3,256.05L261.2,256.07L264.0,256.09L266.9,256.10L269.7,256.12L272.6,256.14L275.4,256.15L278.3,256.17L281.1,256.18L284.0,256.20L286.8,256.21L289.7,256.22L292.5,256.24L295.4,256.25L298.2,256.26L301.1,256.27L303.9,256.28L306.8,256.29L309.6,256.30L312.5,256.31L315.4,256.32L318.2,256.33L321.1,256.34L323.9,256.35L326.8,256.36L329.6,256.36L332.5,256.37L335.3,256.38L338.2,256.39L341.0,256.39L343.9,256.40L346.7,256.41L349.6,256.41L352.4,256.42L355.3,256.42L358.1,256.43L361.0,256.43L363.8,256.44L366.7,256.45L369.5,256.45L372.4,256.46L375.3,256.46L378.1,256.46L381.0,256.47L383.8,256.47L386.7,256.48L389.5,256.48L392.4,256.49L395.2,256.49L398.1,256.49L400.9,256.50L403.8,256.50L406.6,256.50L409.5,256.51L412.3,256.51L415.2,256.52L418.0,256.52L420.9,256.52L423.7,256.52"/>
<path transform="translate(0.45,0)" d="M78.6,-58.58L78.8,-45.63L79.0,-33.46L79.1,-22.00L79.3,-11.19L79.5,-0.98L79.7,8.66L79.9,17.78L80.0,26.42L80.2,34.60L80.4,42.37L80.6,49.74L80.7,56.75L80.9,63.42L81.1,69.77L81.3,75.81L81.5,81.58L81.6,87.08L81.8,92.33L82.0,97.35L82.2,102.15L82.3,106.75L82.5,111.15L82.7,115.36L82.9,119.40L83.1,123.27L83.2,126.99L83.4,130.56L83.6,133.99L83.8,137.29L84.0,140.46L84.1,143.51L84.3,146.45L84.5,149.28L84.7,152.01L84.8,154.64L85.0,157.17L85.2,159.62L85.4,161.98L85.6,164.26L85.7,166.47L85.9,168.60L86.1,170.66L86.3,172.65L86.4,174.57L86.6,176.44L86.8,178.25L87.0,179.99L87.2,181.69L87.3,183.33L87.5,184.93L87.7,186.47L87.9,187.97L88.1,189.42L88.2,190.83L88.4,192.21L88.6,193.54L88.8,194.83L88.9,196.09L89.1,197.31L89.3,198.50L89.5,199.65L89.7,200.78L89.8,201.87L90.0,202.94L90.2,203.97L90.4,204.98L90.5,205.97L90.7,206.93L90.9,207.86L91.1,208.77L91.3,209.66L91.4,210.52L91.6,211.37L91.8,212.19L92.0,212.99L92.2,213.78L92.3,214.54L92.5,215.29L92.7,216.02L92.9,216.73L93.0,217.42L93.2,218.10L93.4,218.77L93.6,219.42L93.8,220.05L93.9,220.67L94.1,221.28L94.3,221.87L94.5,222.45L94.6,223.02L94.8,223.58L95.0,224.12L95.2,224.65L95.4,225.17L95.5,225.68L95.7,226.18L95.9,226.67L96.1,227.15L96.3,227.62L96.4,228.08L96.6,228.53L96.8,228.97L97.0,229.41L97.1,229.83L97.3,230.25L97.5,230.66L97.7,231.06L97.9,231.45L98.0,231.83L98.2,232.21L98.4,232.58L98.6,232.95L99.3,234.34L100.0,235.63L100.7,236.83L101.4,237.95L102.1,239.00L102.8,239.98L103.6,240.90L104.3,241.76L105.0,242.57L105.7,243.33L106.4,244.04L107.1,244.72L107.8,245.36L108.6,245.96L109.3,246.53L110.0,247.07L110.7,247.58L111.4,248.07L112.1,248.53L112.8,248.96L113.5,249.38L114.3,249.78L115.0,250.16L115.7,250.52L116.4,250.86L117.1,251.19L117.8,251.50L118.5,251.80L119.2,252.09L120.0,252.36L120.7,252.63L121.4,252.88L122.1,253.12L122.8,253.35L123.5,253.58L124.2,253.79L125.0,254.00L125.7,254.20L126.4,254.39L127.1,254.57L127.8,254.75L128.5,254.92L129.2,255.08L129.9,255.24L130.7,255.39L131.4,255.54L132.1,255.68L132.8,255.82L133.5,255.95L134.2,256.08L134.9,256.21L135.7,256.33L136.4,256.44L137.1,256.56L137.8,256.67L138.5,256.77L139.2,256.88L139.9,256.98L140.6,257.07L141.4,257.17L142.1,257.26L142.8,257.34L143.5,257.43L144.2,257.51L144.9,257.59L145.6,257.67L146.3,257.75L147.1,257.82L147.8,257.90L148.5,257.97L149.2,258.03L149.9,258.10L150.6,258.17L151.3,258.23L152.1,258.29L152.8,258.35L153.5,258.41L154.2,258.47L154.9,258.52L155.6,258.57L158.5,258.78L161.3,258.96L164.2,259.13L167.0,259.28L169.9,259.42L172.7,259.55L175.6,259.67L178.4,259.78L181.3,259.88L184.1,259.98L187.0,260.06L189.8,260.14L192.7,260.22L195.6,260.29L198.4,260.35L201.3,260.42L204.1,260.47L207.0,260.53L209.8,260.58L212.7,260.63L215.5,260.67L218.4,260.71L221.2,260.75L224.1,260.79L226.9,260.83L229.8,260.86L232.6,260.89L235.5,260.92L238.3,260.95L241.2,260.98L244.0,261.00L246.9,261.03L249.7,261.05L252.6,261.07L255.5,261.10L258.3,261.12L261.2,261.14L264.0,261.15L266.9,261.17L269.7,261.19L272.6,261.21L275.4,261.22L278.3,261.24L281.1,261.25L284.0,261.27L286.8,261.28L289.7,261.29L292.5,261.30L295.4,261.32L298.2,261.33L301.1,261.34L303.9,261.35L306.8,261.36L309.6,261.37L312.5,261.38L315.4,261.39L318.2,261.40L321.1,261.41L323.9,261.41L326.8,261.42L329.6,261.43L332.5,261.44L335.3,261.45L338.2,261.45L341.0,261.46L343.9,261.47L346.7,261.47L349.6,261.48L352.4,261.48L355.3,261.49L358.1,261.50L361.0,261.50L363.8,261.51L366.7,261.51L369.5,261.52L372.4,261.52L375.3,261.53L378.1,261.53L381.0,261.54L383.8,261.54L386.7,261.54L389.5,261.55L392.4,261.55L395.2,261.56L398.1,261.56L400.9,261.56L403.8,261.57L406.6,261.57L409.5,261.57L412.3,261.58L415.2,261.58L418.0,261.58L420.9,261.59L423.7,261.59"/>
<path transform="translate(0.45,0)" d="M78.6,-57.90L78.8,-44.99L79.0,-32.83L79.1,-21.39L79.3,-10.60L79.5,-0.42L79.7,9.21L79.9,18.31L80.0,26.93L80.2,35.10L80.4,42.85L80.6,50.21L80.7,57.21L80.9,63.86L81.1,70.20L81.3,76.23L81.5,81.99L81.6,87.48L81.8,92.72L82.0,97.73L82.2,102.53L82.3,107.11L82.5,111.50L82.7,115.71L82.9,119.74L83.1,123.60L83.2,127.31L83.4,130.88L83.6,134.30L83.8,137.59L84.0,140.76L84.1,143.81L84.3,146.74L84.5,149.56L84.7,152.28L84.8,154.91L85.0,157.44L85.2,159.88L85.4,162.24L85.6,164.52L85.7,166.72L85.9,168.84L86.1,170.90L86.3,172.88L86.4,174.81L86.6,176.67L86.8,178.47L87.0,180.22L87.2,181.91L87.3,183.55L87.5,185.14L87.7,186.68L87.9,188.18L88.1,189.63L88.2,191.04L88.4,192.41L88.6,193.74L88.8,195.03L88.9,196.28L89.1,197.50L89.3,198.69L89.5,199.84L89.7,200.96L89.8,202.06L90.0,203.12L90.2,204.15L90.4,205.16L90.5,206.14L90.7,207.10L90.9,208.03L91.1,208.94L91.3,209.82L91.4,210.69L91.6,211.53L91.8,212.35L92.0,213.15L92.2,213.94L92.3,214.70L92.5,215.44L92.7,216.17L92.9,216.88L93.0,217.58L93.2,218.26L93.4,218.92L93.6,219.57L93.8,220.20L93.9,220.82L94.1,221.43L94.3,222.02L94.5,222.60L94.6,223.16L94.8,223.72L95.0,224.26L95.2,224.79L95.4,225.31L95.5,225.82L95.7,226.32L95.9,226.81L96.1,227.29L96.3,227.76L96.4,228.21L96.6,228.66L96.8,229.11L97.0,229.54L97.1,229.96L97.3,230.38L97.5,230.78L97.7,231.18L97.9,231.58L98.0,231.96L98.2,232.34L98.4,232.71L98.6,233.07L99.3,234.46L100.0,235.75L100.7,236.95L101.4,238.07L102.1,239.11L102.8,240.09L103.6,241.00L104.3,241.86L105.0,242.67L105.7,243.43L106.4,244.15L107.1,244.82L107.8,245.46L108.6,246.06L109.3,246.63L110.0,247.17L110.7,247.68L111.4,248.16L112.1,248.62L112.8,249.06L113.5,249.47L114.3,249.87L115.0,250.25L115.7,250.61L116.4,250.95L117.1,251.28L117.8,251.59L118.5,251.89L119.2,252.18L120.0,252.45L120.7,252.71L121.4,252.97L122.1,253.21L122.8,253.44L123.5,253.66L124.2,253.88L125.0,254.08L125.7,254.28L126.4,254.47L127.1,254.65L127.8,254.83L128.5,255.00L129.2,255.16L129.9,255.32L130.7,255.48L131.4,255.62L132.1,255.76L132.8,255.90L133.5,256.04L134.2,256.16L134.9,256.29L135.7,256.41L136.4,256.52L137.1,256.64L137.8,256.75L138.5,256.85L139.2,256.95L139.9,257.05L140.6,257.15L141.4,257.24L142.1,257.33L142.8,257.42L143.5,257.51L144.2,257.59L144.9,257.67L145.6,257.75L146.3,257.83L147.1,257.90L147.8,257.97L148.5,258.04L149.2,258.11L149.9,258.18L150.6,258.24L151.3,258.31L152.1,258.37L152.8,258.43L153.5,258.48L154.2,258.54L154.9,258.60L155.6,258.65L158.5,258.85L161.3,259.04L164.2,259.21L167.0,259.36L169.9,259.50L172.7,259.63L175.6,259.75L178.4,259.86L181.3,259.96L184.1,260.05L187.0,260.14L189.8,260.22L192.7,260.29L195.6,260.36L198.4,260.43L201.3,260.49L204.1,260.55L207.0,260.60L209.8,260.65L212.7,260.70L215.5,260.74L218.4,260.78L221.2,260.82L224.1,260.86L226.9,260.90L229.8,260.93L232.6,260.96L235.5,260.99L238.3,261.02L241.2,261.05L244.0,261.07L246.9,261.10L249.7,261.12L252.6,261.15L255.5,261.17L258.3,261.19L261.2,261.21L264.0,261.23L266.9,261.24L269.7,261.26L272.6,261.28L275.4,261.29L278.3,261.31L281.1,261.32L284.0,261.34L286.8,261.35L289.7,261.36L292.5,261.38L295.4,261.39L298.2,261.40L301.1,261.41L303.9,261.42L306.8,261.43L309.6,261.44L312.5,261.45L315.4,261.46L318.2,261.47L321.1,261.48L323.9,261.48L326.8,261.49L329.6,261.50L332.5,261.51L335.3,261.52L338.2,261.52L341.0,261.53L343.9,261.54L346.7,261.54L349.6,261.55L352.4,261.55L355.3,261.56L358.1,261.57L361.0,261.57L363.8,261.58L366.7,261.58L369.5,261.59L372.4,261.59L375.3,261.60L378.1,261.60L381.0,261.61L383.8,261.61L386.7,261.61L389.5,261.62L392.4,261.62L395.2,261.63L398.1,261.63L400.9,261.63L403.8,261.64L406.6,261.64L409.5,261.64L412.3,261.65L415.2,261.65L418.0,261.65L420.9,261.66L423.7,261.66"/>
</g>
<rect x="245.5" y="11.5" width="160.0" height="151.0" fill="#fff" stroke="none"/>
<path d="M269.58,162.5v-2.2M269.58,11.5v2.2M283.67,162.5v-2.2M283.67,11.5v2.2M293.66,162.5v-2.2M293.66,11.5v2.2M301.42,162.5v-2.2M301.42,11.5v2.2M307.75,162.5v-2.2M307.75,11.5v2.2M313.11,162.5v-2.2M313.11,11.5v2.2M317.75,162.5v-2.2M317.75,11.5v2.2M321.84,162.5v-2.2M321.84,11.5v2.2M325.50,162.5v-4.5M325.50,11.5v4.5M349.58,162.5v-2.2M349.58,11.5v2.2M363.67,162.5v-2.2M363.67,11.5v2.2M373.66,162.5v-2.2M373.66,11.5v2.2M381.42,162.5v-2.2M381.42,11.5v2.2M387.75,162.5v-2.2M387.75,11.5v2.2M393.11,162.5v-2.2M393.11,11.5v2.2M397.75,162.5v-2.2M397.75,11.5v2.2M401.84,162.5v-2.2M401.84,11.5v2.2M405.50,162.5v-4.5M405.50,11.5v4.5M245.5,162.10h4.5M405.5,162.10h-4.5M245.5,153.03h2.2M405.5,153.03h-2.2M245.5,147.73h2.2M405.5,147.73h-2.2M245.5,143.97h2.2M405.5,143.97h-2.2M245.5,141.05h2.2M405.5,141.05h-2.2M245.5,138.66h2.2M405.5,138.66h-2.2M245.5,136.65h2.2M405.5,136.65h-2.2M245.5,134.90h2.2M405.5,134.90h-2.2M245.5,133.36h2.2M405.5,133.36h-2.2M245.5,131.98h4.5M405.5,131.98h-4.5M245.5,122.91h2.2M405.5,122.91h-2.2M245.5,117.61h2.2M405.5,117.61h-2.2M245.5,113.85h2.2M405.5,113.85h-2.2M245.5,110.93h2.2M405.5,110.93h-2.2M245.5,108.54h2.2M405.5,108.54h-2.2M245.5,106.53h2.2M405.5,106.53h-2.2M245.5,104.78h2.2M405.5,104.78h-2.2M245.5,103.24h2.2M405.5,103.24h-2.2M245.5,101.86h4.5M405.5,101.86h-4.5M245.5,92.79h2.2M405.5,92.79h-2.2M245.5,87.49h2.2M405.5,87.49h-2.2M245.5,83.73h2.2M405.5,83.73h-2.2M245.5,80.81h2.2M405.5,80.81h-2.2M245.5,78.42h2.2M405.5,78.42h-2.2M245.5,76.41h2.2M405.5,76.41h-2.2M245.5,74.66h2.2M405.5,74.66h-2.2M245.5,73.12h2.2M405.5,73.12h-2.2M245.5,71.74h4.5M405.5,71.74h-4.5M245.5,62.67h2.2M405.5,62.67h-2.2M245.5,57.37h2.2M405.5,57.37h-2.2M245.5,53.61h2.2M405.5,53.61h-2.2M245.5,50.69h2.2M405.5,50.69h-2.2M245.5,48.30h2.2M405.5,48.30h-2.2M245.5,46.29h2.2M405.5,46.29h-2.2M245.5,44.54h2.2M405.5,44.54h-2.2M245.5,43.00h2.2M405.5,43.00h-2.2M245.5,41.62h4.5M405.5,41.62h-4.5M245.5,32.55h2.2M405.5,32.55h-2.2M245.5,27.25h2.2M405.5,27.25h-2.2M245.5,23.49h2.2M405.5,23.49h-2.2M245.5,20.57h2.2M405.5,20.57h-2.2M245.5,18.18h2.2M405.5,18.18h-2.2M245.5,16.17h2.2M405.5,16.17h-2.2M245.5,14.42h2.2M405.5,14.42h-2.2M245.5,12.88h2.2M405.5,12.88h-2.2M245.5,11.50h4.5M405.5,11.50h-4.5" stroke="#000" stroke-width="0.6" fill="none"/>
<g transform="translate(0,0.5)">
<g><use href="#gx" x="251.83" y="33.06"/><use href="#gx" x="257.19" y="37.05"/><use href="#gx" x="261.83" y="40.51"/><use href="#gx" x="265.92" y="43.55"/><use href="#gx" x="269.58" y="46.27"/><use href="#gx" x="272.89" y="48.72"/><use href="#gx" x="275.92" y="50.96"/><use href="#gx" x="278.70" y="53.01"/><use href="#gx" x="281.27" y="54.91"/><use href="#gx" x="283.67" y="56.68"/><use href="#gx" x="285.91" y="58.33"/><use href="#gx" x="288.02" y="59.88"/><use href="#gx" x="290.00" y="61.33"/><use href="#gx" x="291.88" y="62.71"/><use href="#gx" x="293.66" y="64.01"/><use href="#gx" x="295.36" y="65.25"/><use href="#gx" x="296.98" y="66.43"/><use href="#gx" x="298.52" y="67.56"/><use href="#gx" x="300.00" y="68.63"/><use href="#gx" x="301.42" y="69.66"/><use href="#gx" x="302.78" y="70.65"/><use href="#gx" x="304.09" y="71.60"/><use href="#gx" x="305.36" y="72.52"/><use href="#gx" x="306.57" y="73.40"/><use href="#gx" x="307.75" y="74.25"/><use href="#gx" x="308.89" y="75.07"/><use href="#gx" x="309.99" y="75.86"/><use href="#gx" x="311.06" y="76.63"/><use href="#gx" x="312.10" y="77.38"/><use href="#gx" x="313.11" y="78.10"/><use href="#gx" x="314.09" y="78.80"/><use href="#gx" x="315.04" y="79.48"/><use href="#gx" x="315.97" y="80.14"/><use href="#gx" x="316.87" y="80.78"/><use href="#gx" x="317.75" y="81.41"/><use href="#gx" x="318.61" y="82.02"/><use href="#gx" x="319.44" y="82.61"/><use href="#gx" x="320.26" y="83.19"/><use href="#gx" x="321.06" y="83.76"/><use href="#gx" x="321.84" y="84.31"/><use href="#gx" x="322.60" y="84.85"/><use href="#gx" x="323.35" y="85.38"/><use href="#gx" x="324.08" y="85.89"/><use href="#gx" x="324.80" y="86.40"/><use href="#gx" x="325.50" y="86.89"/><use href="#gx" x="326.19" y="87.38"/><use href="#gx" x="326.86" y="87.85"/><use href="#gx" x="327.52" y="88.31"/><use href="#gx" x="328.17" y="88.77"/><use href="#gx" x="328.81" y="89.21"/><use href="#gx" x="329.44" y="89.65"/><use href="#gx" x="330.05" y="90.08"/><use href="#gx" x="330.66" y="90.50"/><use href="#gx" x="331.25" y="90.91"/><use href="#gx" x="331.83" y="91.32"/><use href="#gx" x="332.41" y="91.72"/><use href="#gx" x="332.97" y="92.11"/><use href="#gx" x="333.53" y="92.49"/><use href="#gx" x="334.08" y="92.87"/><use href="#gx" x="334.62" y="93.24"/><use href="#gx" x="335.15" y="93.61"/><use href="#gx" x="335.67" y="93.97"/><use href="#gx" x="336.18" y="94.32"/><use href="#gx" x="336.69" y="94.67"/><use href="#gx" x="337.19" y="95.01"/><use href="#gx" x="337.68" y="95.35"/><use href="#gx" x="338.17" y="95.68"/><use href="#gx" x="338.65" y="96.01"/><use href="#gx" x="339.12" y="96.34"/><use href="#gx" x="339.59" y="96.65"/><use href="#gx" x="340.05" y="96.97"/><use href="#gx" x="340.50" y="97.28"/><use href="#gx" x="340.95" y="97.58"/><use href="#gx" x="341.39" y="97.88"/><use href="#gx" x="341.83" y="98.18"/><use href="#gx" x="342.26" y="98.47"/><use href="#gx" x="342.69" y="98.76"/><use href="#gx" x="343.11" y="99.05"/><use href="#gx" x="343.52" y="99.33"/><use href="#gx" x="343.94" y="99.60"/><use href="#gx" x="344.34" y="99.88"/><use href="#gx" x="344.74" y="100.15"/><use href="#gx" x="345.14" y="100.42"/><use href="#gx" x="345.53" y="100.68"/><use href="#gx" x="345.92" y="100.94"/><use href="#gx" x="346.31" y="101.20"/><use href="#gx" x="346.69" y="101.45"/><use href="#gx" x="347.06" y="101.70"/><use href="#gx" x="347.43" y="101.95"/><use href="#gx" x="347.80" y="102.20"/><use href="#gx" x="348.16" y="102.44"/><use href="#gx" x="348.52" y="102.68"/><use href="#gx" x="348.88" y="102.92"/><use href="#gx" x="349.23" y="103.15"/><use href="#gx" x="349.58" y="103.38"/><use href="#gx" x="349.93" y="103.61"/><use href="#gx" x="350.27" y="103.84"/><use href="#gx" x="350.61" y="104.07"/><use href="#gx" x="350.95" y="104.29"/><use href="#gx" x="351.28" y="104.51"/><use href="#gx" x="351.61" y="104.72"/><use href="#gx" x="351.93" y="104.94"/><use href="#gx" x="352.26" y="105.15"/><use href="#gx" x="352.58" y="105.36"/><use href="#gx" x="352.89" y="105.57"/><use href="#gx" x="353.21" y="105.78"/><use href="#gx" x="353.52" y="105.98"/><use href="#gx" x="353.83" y="106.19"/><use href="#gx" x="354.13" y="106.39"/><use href="#gx" x="354.44" y="106.59"/><use href="#gx" x="354.74" y="106.78"/><use href="#gx" x="355.04" y="106.98"/><use href="#gx" x="355.33" y="107.17"/><use href="#gx" x="355.63" y="107.36"/><use href="#gx" x="355.92" y="107.55"/><use href="#gx" x="356.21" y="107.74"/><use href="#gx" x="356.49" y="107.92"/><use href="#gx" x="356.77" y="108.11"/><use href="#gx" x="357.06" y="108.29"/><use href="#gx" x="357.34" y="108.47"/><use href="#gx" x="357.61" y="108.65"/><use href="#gx" x="357.89" y="108.83"/><use href="#gx" x="358.16" y="109.01"/><use href="#gx" x="358.43" y="109.18"/><use href="#gx" x="358.70" y="109.35"/><use href="#gx" x="358.96" y="109.53"/><use href="#gx" x="359.23" y="109.70"/><use href="#gx" x="359.49" y="109.86"/><use href="#gx" x="359.75" y="110.03"/><use href="#gx" x="360.01" y="110.20"/><use href="#gx" x="360.27" y="110.36"/><use href="#gx" x="360.52" y="110.53"/><use href="#gx" x="360.77" y="110.69"/><use href="#gx" x="361.02" y="110.85"/><use href="#gx" x="361.27" y="111.01"/><use href="#gx" x="361.52" y="111.17"/><use href="#gx" x="361.77" y="111.32"/><use href="#gx" x="362.01" y="111.48"/><use href="#gx" x="362.25" y="111.63"/><use href="#gx" x="362.49" y="111.79"/><use href="#gx" x="362.73" y="111.94"/><use href="#gx" x="362.97" y="112.09"/><use href="#gx" x="363.20" y="112.24"/><use href="#gx" x="363.44" y="112.39"/><use href="#gx" x="363.67" y="112.53"/><use href="#gx" x="363.90" y="112.68"/><use href="#gx" x="364.13" y="112.82"/><use href="#gx" x="364.36" y="112.97"/><use href="#gx" x="364.58" y="113.11"/><use href="#gx" x="364.81" y="113.25"/><use href="#gx" x="365.03" y="113.39"/><use href="#gx" x="365.25" y="113.53"/><use href="#gx" x="365.47" y="113.67"/><use href="#gx" x="365.69" y="113.81"/><use href="#gx" x="365.91" y="113.95"/><use href="#gx" x="366.13" y="114.08"/><use href="#gx" x="366.34" y="114.22"/><use href="#gx" x="366.56" y="114.35"/><use href="#gx" x="366.77" y="114.49"/><use href="#gx" x="366.98" y="114.62"/><use href="#gx" x="367.19" y="114.75"/><use href="#gx" x="367.40" y="114.88"/><use href="#gx" x="367.61" y="115.01"/><use href="#gx" x="367.81" y="115.14"/><use href="#gx" x="368.02" y="115.27"/><use href="#gx" x="368.22" y="115.39"/><use href="#gx" x="368.42" y="115.52"/><use href="#gx" x="368.63" y="115.65"/><use href="#gx" x="368.83" y="115.77"/><use href="#gx" x="369.03" y="115.89"/><use href="#gx" x="369.22" y="116.02"/><use href="#gx" x="369.42" y="116.14"/><use href="#gx" x="369.62" y="116.26"/><use href="#gx" x="369.81" y="116.38"/><use href="#gx" x="370.00" y="116.50"/><use href="#gx" x="370.20" y="116.62"/><use href="#gx" x="370.39" y="116.74"/><use href="#gx" x="370.58" y="116.85"/><use href="#gx" x="370.77" y="116.97"/><use href="#gx" x="370.96" y="117.09"/><use href="#gx" x="371.14" y="117.20"/><use href="#gx" x="371.33" y="117.32"/><use href="#gx" x="371.52" y="117.43"/><use href="#gx" x="371.70" y="117.54"/><use href="#gx" x="371.88" y="117.66"/><use href="#gx" x="372.07" y="117.77"/><use href="#gx" x="372.25" y="117.88"/><use href="#gx" x="372.43" y="117.99"/><use href="#gx" x="372.61" y="118.10"/><use href="#gx" x="372.79" y="118.21"/><use href="#gx" x="372.96" y="118.32"/><use href="#gx" x="373.14" y="118.43"/><use href="#gx" x="373.32" y="118.53"/><use href="#gx" x="373.49" y="118.64"/><use href="#gx" x="373.66" y="118.75"/><use href="#gx" x="373.84" y="118.85"/><use href="#gx" x="374.01" y="118.96"/><use href="#gx" x="374.18" y="119.06"/><use href="#gx" x="374.35" y="119.17"/><use href="#gx" x="374.52" y="119.27"/><use href="#gx" x="374.69" y="119.37"/><use href="#gx" x="374.86" y="119.47"/><use href="#gx" x="375.03" y="119.58"/><use href="#gx" x="375.19" y="119.68"/><use href="#gx" x="375.36" y="119.78"/><use href="#gx" x="375.52" y="119.88"/><use href="#gx" x="375.69" y="119.98"/><use href="#gx" x="375.85" y="120.07"/><use href="#gx" x="376.02" y="120.17"/><use href="#gx" x="376.18" y="120.27"/><use href="#gx" x="376.34" y="120.37"/><use href="#gx" x="376.50" y="120.46"/><use href="#gx" x="376.66" y="120.56"/><use href="#gx" x="376.82" y="120.66"/><use href="#gx" x="376.98" y="120.75"/><use href="#gx" x="377.13" y="120.85"/><use href="#gx" x="377.29" y="120.94"/><use href="#gx" x="377.45" y="121.03"/><use href="#gx" x="377.60" y="121.13"/><use href="#gx" x="377.76" y="121.22"/><use href="#gx" x="377.91" y="121.31"/><use href="#gx" x="378.06" y="121.40"/><use href="#gx" x="378.22" y="121.49"/><use href="#gx" x="378.37" y="121.58"/><use href="#gx" x="378.52" y="121.68"/><use href="#gx" x="378.67" y="121.77"/><use href="#gx" x="378.82" y="121.85"/><use href="#gx" x="378.97" y="121.94"/><use href="#gx" x="379.12" y="122.03"/><use href="#gx" x="379.27" y="122.12"/><use href="#gx" x="379.42" y="122.21"/><use href="#gx" x="379.56" y="122.30"/><use href="#gx" x="379.71" y="122.38"/><use href="#gx" x="379.85" y="122.47"/><use href="#gx" x="380.00" y="122.55"/><use href="#gx" x="380.14" y="122.64"/><use href="#gx" x="380.29" y="122.73"/><use href="#gx" x="380.43" y="122.81"/><use href="#gx" x="380.57" y="122.89"/><use href="#gx" x="380.72" y="122.98"/><use href="#gx" x="380.86" y="123.06"/><use href="#gx" x="381.00" y="123.15"/><use href="#gx" x="381.14" y="123.23"/><use href="#gx" x="381.28" y="123.31"/><use href="#gx" x="381.42" y="123.39"/><use href="#gx" x="381.56" y="123.47"/><use href="#gx" x="381.69" y="123.56"/><use href="#gx" x="381.83" y="123.64"/><use href="#gx" x="381.97" y="123.72"/><use href="#gx" x="382.11" y="123.80"/><use href="#gx" x="382.24" y="123.88"/><use href="#gx" x="382.38" y="123.96"/><use href="#gx" x="382.51" y="124.04"/><use href="#gx" x="382.65" y="124.11"/><use href="#gx" x="382.78" y="124.19"/><use href="#gx" x="382.91" y="124.27"/><use href="#gx" x="383.05" y="124.35"/><use href="#gx" x="383.18" y="124.43"/><use href="#gx" x="383.31" y="124.50"/><use href="#gx" x="383.44" y="124.58"/><use href="#gx" x="383.57" y="124.66"/><use href="#gx" x="383.70" y="124.73"/><use href="#gx" x="383.83" y="124.81"/><use href="#gx" x="383.96" y="124.88"/><use href="#gx" x="384.09" y="124.96"/><use href="#gx" x="384.22" y="125.03"/><use href="#gx" x="384.35" y="125.11"/><use href="#gx" x="384.48" y="125.18"/><use href="#gx" x="384.60" y="125.25"/><use href="#gx" x="384.73" y="125.33"/><use href="#gx" x="384.86" y="125.40"/><use href="#gx" x="384.98" y="125.47"/><use href="#gx" x="385.11" y="125.55"/><use href="#gx" x="385.23" y="125.62"/><use href="#gx" x="385.36" y="125.69"/><use href="#gx" x="385.48" y="125.76"/><use href="#gx" x="385.60" y="125.83"/><use href="#gx" x="385.73" y="125.90"/><use href="#gx" x="385.85" y="125.98"/><use href="#gx" x="385.97" y="126.05"/><use href="#gx" x="386.09" y="126.12"/><use href="#gx" x="386.21" y="126.19"/><use href="#gx" x="386.33" y="126.26"/><use href="#gx" x="386.45" y="126.32"/><use href="#gx" x="386.57" y="126.39"/><use href="#gx" x="386.69" y="126.46"/><use href="#gx" x="386.81" y="126.53"/><use href="#gx" x="386.93" y="126.60"/><use href="#gx" x="387.05" y="126.67"/><use href="#gx" x="387.17" y="126.74"/><use href="#gx" x="387.29" y="126.80"/><use href="#gx" x="387.40" y="126.87"/><use href="#gx" x="387.52" y="126.94"/><use href="#gx" x="387.64" y="127.00"/><use href="#gx" x="387.75" y="127.07"/><use href="#gx" x="387.87" y="127.14"/><use href="#gx" x="387.98" y="127.20"/><use href="#gx" x="388.10" y="127.27"/><use href="#gx" x="388.21" y="127.33"/><use href="#gx" x="388.33" y="127.40"/><use href="#gx" x="388.44" y="127.46"/><use href="#gx" x="388.55" y="127.53"/><use href="#gx" x="388.67" y="127.59"/><use href="#gx" x="388.78" y="127.66"/><use href="#gx" x="388.89" y="127.72"/><use href="#gx" x="389.00" y="127.78"/><use href="#gx" x="389.11" y="127.85"/><use href="#gx" x="389.23" y="127.91"/><use href="#gx" x="389.34" y="127.97"/><use href="#gx" x="389.45" y="128.04"/><use href="#gx" x="389.56" y="128.10"/><use href="#gx" x="389.67" y="128.16"/><use href="#gx" x="389.78" y="128.22"/><use href="#gx" x="389.89" y="128.28"/><use href="#gx" x="389.99" y="128.35"/><use href="#gx" x="390.10" y="128.41"/><use href="#gx" x="390.21" y="128.47"/><use href="#gx" x="390.32" y="128.53"/><use href="#gx" x="390.43" y="128.59"/><use href="#gx" x="390.53" y="128.65"/><use href="#gx" x="390.64" y="128.71"/><use href="#gx" x="390.75" y="128.77"/><use href="#gx" x="390.85" y="128.83"/><use href="#gx" x="390.96" y="128.89"/><use href="#gx" x="391.06" y="128.95"/><use href="#gx" x="391.17" y="129.01"/><use href="#gx" x="391.27" y="129.07"/><use href="#gx" x="391.38" y="129.13"/><use href="#gx" x="391.48" y="129.18"/><use href="#gx" x="391.59" y="129.24"/><use href="#gx" x="391.69" y="129.30"/><use href="#gx" x="391.79" y="129.36"/><use href="#gx" x="391.90" y="129.42"/><use href="#gx" x="392.00" y="129.47"/><use href="#gx" x="392.10" y="129.53"/><use href="#gx" x="392.20" y="129.59"/><use href="#gx" x="392.30" y="129.65"/><use href="#gx" x="392.41" y="129.70"/><use href="#gx" x="392.51" y="129.76"/><use href="#gx" x="392.61" y="129.81"/><use href="#gx" x="392.71" y="129.87"/><use href="#gx" x="392.81" y="129.93"/><use href="#gx" x="392.91" y="129.98"/><use href="#gx" x="393.01" y="130.04"/><use href="#gx" x="393.11" y="130.09"/><use href="#gx" x="393.21" y="130.15"/><use href="#gx" x="393.31" y="130.20"/><use href="#gx" x="393.40" y="130.26"/><use href="#gx" x="393.50" y="130.31"/><use href="#gx" x="393.60" y="130.37"/><use href="#gx" x="393.70" y="130.42"/><use href="#gx" x="393.80" y="130.48"/><use href="#gx" x="393.89" y="130.53"/><use href="#gx" x="393.99" y="130.58"/><use href="#gx" x="394.09" y="130.64"/><use href="#gx" x="394.18" y="130.69"/><use href="#gx" x="394.28" y="130.74"/><use href="#gx" x="394.37" y="130.80"/><use href="#gx" x="394.47" y="130.85"/><use href="#gx" x="394.57" y="130.90"/><use href="#gx" x="394.66" y="130.96"/><use href="#gx" x="394.76" y="131.01"/><use href="#gx" x="394.85" y="131.06"/><use href="#gx" x="394.94" y="131.11"/><use href="#gx" x="395.04" y="131.17"/><use href="#gx" x="395.13" y="131.22"/><use href="#gx" x="395.23" y="131.27"/><use href="#gx" x="395.32" y="131.32"/><use href="#gx" x="395.41" y="131.37"/><use href="#gx" x="395.50" y="131.42"/><use href="#gx" x="395.60" y="131.47"/><use href="#gx" x="395.69" y="131.52"/><use href="#gx" x="395.78" y="131.57"/><use href="#gx" x="395.87" y="131.63"/><use href="#gx" x="395.97" y="131.68"/><use href="#gx" x="396.06" y="131.73"/><use href="#gx" x="396.15" y="131.78"/><use href="#gx" x="396.24" y="131.83"/><use href="#gx" x="396.33" y="131.88"/><use href="#gx" x="396.42" y="131.92"/><use href="#gx" x="396.51" y="131.97"/><use href="#gx" x="396.60" y="132.02"/><use href="#gx" x="396.69" y="132.07"/><use href="#gx" x="396.78" y="132.12"/><use href="#gx" x="396.87" y="132.17"/><use href="#gx" x="396.96" y="132.22"/><use href="#gx" x="397.05" y="132.27"/><use href="#gx" x="397.13" y="132.32"/><use href="#gx" x="397.22" y="132.36"/><use href="#gx" x="397.31" y="132.41"/><use href="#gx" x="397.40" y="132.46"/><use href="#gx" x="397.49" y="132.51"/><use href="#gx" x="397.57" y="132.56"/><use href="#gx" x="397.66" y="132.60"/><use href="#gx" x="397.75" y="132.65"/><use href="#gx" x="397.83" y="132.70"/><use href="#gx" x="397.92" y="132.75"/><use href="#gx" x="398.01" y="132.79"/><use href="#gx" x="398.09" y="132.84"/><use href="#gx" x="398.18" y="132.89"/><use href="#gx" x="398.26" y="132.93"/><use href="#gx" x="398.35" y="132.98"/><use href="#gx" x="398.44" y="133.03"/><use href="#gx" x="398.52" y="133.07"/><use href="#gx" x="398.61" y="133.12"/><use href="#gx" x="398.69" y="133.16"/><use href="#gx" x="398.77" y="133.21"/><use href="#gx" x="398.86" y="133.25"/><use href="#gx" x="398.94" y="133.30"/><use href="#gx" x="399.03" y="133.35"/><use href="#gx" x="399.11" y="133.39"/><use href="#gx" x="399.19" y="133.44"/><use href="#gx" x="399.28" y="133.48"/><use href="#gx" x="399.36" y="133.53"/><use href="#gx" x="399.44" y="133.57"/><use href="#gx" x="399.52" y="133.62"/><use href="#gx" x="399.61" y="133.66"/><use href="#gx" x="399.69" y="133.70"/><use href="#gx" x="399.77" y="133.75"/><use href="#gx" x="399.85" y="133.79"/><use href="#gx" x="399.94" y="133.84"/><use href="#gx" x="400.02" y="133.88"/><use href="#gx" x="400.10" y="133.92"/><use href="#gx" x="400.18" y="133.97"/><use href="#gx" x="400.26" y="134.01"/><use href="#gx" x="400.34" y="134.06"/><use href="#gx" x="400.42" y="134.10"/><use href="#gx" x="400.50" y="134.14"/><use href="#gx" x="400.58" y="134.18"/><use href="#gx" x="400.66" y="134.23"/><use href="#gx" x="400.74" y="134.27"/><use href="#gx" x="400.82" y="134.31"/><use href="#gx" x="400.90" y="134.36"/><use href="#gx" x="400.98" y="134.40"/><use href="#gx" x="401.06" y="134.44"/><use href="#gx" x="401.14" y="134.48"/><use href="#gx" x="401.22" y="134.53"/><use href="#gx" x="401.29" y="134.57"/><use href="#gx" x="401.37" y="134.61"/><use href="#gx" x="401.45" y="134.65"/><use href="#gx" x="401.53" y="134.69"/><use href="#gx" x="401.61" y="134.73"/><use href="#gx" x="401.68" y="134.78"/><use href="#gx" x="401.76" y="134.82"/><use href="#gx" x="401.84" y="134.86"/><use href="#gx" x="401.92" y="134.90"/><use href="#gx" x="401.99" y="134.94"/><use href="#gx" x="402.07" y="134.98"/><use href="#gx" x="402.15" y="135.02"/><use href="#gx" x="402.22" y="135.06"/><use href="#gx" x="402.30" y="135.10"/><use href="#gx" x="402.38" y="135.14"/><use href="#gx" x="402.45" y="135.19"/><use href="#gx" x="402.53" y="135.23"/><use href="#gx" x="402.60" y="135.27"/><use href="#gx" x="402.68" y="135.31"/><use href="#gx" x="402.75" y="135.35"/><use href="#gx" x="402.83" y="135.39"/><use href="#gx" x="402.90" y="135.43"/><use href="#gx" x="402.98" y="135.47"/><use href="#gx" x="403.05" y="135.50"/><use href="#gx" x="403.13" y="135.54"/><use href="#gx" x="403.20" y="135.58"/><use href="#gx" x="403.28" y="135.62"/><use href="#gx" x="403.35" y="135.66"/><use href="#gx" x="403.42" y="135.70"/><use href="#gx" x="403.50" y="135.74"/><use href="#gx" x="403.57" y="135.78"/><use href="#gx" x="403.64" y="135.82"/><use href="#gx" x="403.72" y="135.86"/><use href="#gx" x="403.79" y="135.90"/><use href="#gx" x="403.86" y="135.93"/><use href="#gx" x="403.94" y="135.97"/><use href="#gx" x="404.01" y="136.01"/><use href="#gx" x="404.08" y="136.05"/><use href="#gx" x="404.15" y="136.09"/><use href="#gx" x="404.23" y="136.13"/><use href="#gx" x="404.30" y="136.16"/><use href="#gx" x="404.37" y="136.20"/><use href="#gx" x="404.44" y="136.24"/><use href="#gx" x="404.51" y="136.28"/><use href="#gx" x="404.58" y="136.31"/><use href="#gx" x="404.66" y="136.35"/><use href="#gx" x="404.73" y="136.39"/><use href="#gx" x="404.80" y="136.43"/><use href="#gx" x="404.87" y="136.46"/><use href="#gx" x="404.94" y="136.50"/><use href="#gx" x="405.01" y="136.54"/><use href="#gx" x="405.08" y="136.58"/><use href="#gx" x="405.15" y="136.61"/><use href="#gx" x="405.22" y="136.65"/><use href="#gx" x="405.29" y="136.69"/><use href="#gx" x="405.36" y="136.72"/><use href="#gx" x="405.43" y="136.76"/><use href="#gx" x="405.50" y="136.80"/></g>
<g><use href="#bs2" x="251.83" y="33.30"/><use href="#bs2" x="257.19" y="37.33"/><use href="#bs2" x="261.83" y="40.83"/><use href="#bs2" x="265.92" y="43.91"/><use href="#bs2" x="269.58" y="46.66"/><use href="#bs2" x="272.89" y="49.16"/><use href="#bs2" x="275.92" y="51.43"/><use href="#bs2" x="278.70" y="53.53"/><use href="#bs2" x="281.27" y="55.47"/><use href="#bs2" x="283.67" y="57.27"/><use href="#bs2" x="285.91" y="58.96"/><use href="#bs2" x="288.02" y="60.54"/><use href="#bs2" x="290.00" y="62.04"/><use href="#bs2" x="291.88" y="63.45"/><use href="#bs2" x="293.66" y="64.80"/><use href="#bs2" x="295.36" y="66.07"/><use href="#bs2" x="296.98" y="67.29"/><use href="#bs2" x="298.52" y="68.45"/><use href="#bs2" x="300.00" y="69.56"/><use href="#bs2" x="301.42" y="70.63"/><use href="#bs2" x="302.78" y="71.66"/><use href="#bs2" x="304.09" y="72.64"/><use href="#bs2" x="305.36" y="73.60"/><use href="#bs2" x="306.57" y="74.51"/><use href="#bs2" x="307.75" y="75.40"/><use href="#bs2" x="308.89" y="76.26"/><use href="#bs2" x="309.99" y="77.09"/><use href="#bs2" x="311.06" y="77.89"/><use href="#bs2" x="312.10" y="78.67"/><use href="#bs2" x="313.11" y="79.43"/><use href="#bs2" x="314.09" y="80.17"/><use href="#bs2" x="315.04" y="80.88"/><use href="#bs2" x="315.97" y="81.58"/><use href="#bs2" x="316.87" y="82.26"/><use href="#bs2" x="317.75" y="82.92"/><use href="#bs2" x="318.61" y="83.57"/><use href="#bs2" x="319.44" y="84.20"/><use href="#bs2" x="320.26" y="84.81"/><use href="#bs2" x="321.06" y="85.41"/><use href="#bs2" x="321.84" y="86.00"/><use href="#bs2" x="322.60" y="86.57"/><use href="#bs2" x="323.35" y="87.14"/><use href="#bs2" x="324.08" y="87.69"/><use href="#bs2" x="324.80" y="88.22"/><use href="#bs2" x="325.50" y="88.75"/><use href="#bs2" x="326.19" y="89.27"/><use href="#bs2" x="326.86" y="89.78"/><use href="#bs2" x="327.52" y="90.27"/><use href="#bs2" x="328.17" y="90.76"/><use href="#bs2" x="328.81" y="91.24"/><use href="#bs2" x="329.44" y="91.71"/><use href="#bs2" x="330.05" y="92.17"/><use href="#bs2" x="330.66" y="92.63"/><use href="#bs2" x="331.25" y="93.07"/><use href="#bs2" x="331.83" y="93.51"/><use href="#bs2" x="332.41" y="93.94"/><use href="#bs2" x="332.97" y="94.37"/><use href="#bs2" x="333.53" y="94.79"/><use href="#bs2" x="334.08" y="95.20"/><use href="#bs2" x="334.62" y="95.60"/><use href="#bs2" x="335.15" y="96.00"/><use href="#bs2" x="335.67" y="96.39"/><use href="#bs2" x="336.18" y="96.78"/><use href="#bs2" x="336.69" y="97.16"/><use href="#bs2" x="337.19" y="97.54"/><use href="#bs2" x="337.68" y="97.91"/><use href="#bs2" x="338.17" y="98.27"/><use href="#bs2" x="338.65" y="98.63"/><use href="#bs2" x="339.12" y="98.99"/><use href="#bs2" x="339.59" y="99.34"/><use href="#bs2" x="340.05" y="99.68"/><use href="#bs2" x="340.50" y="100.02"/><use href="#bs2" x="340.95" y="100.36"/><use href="#bs2" x="341.39" y="100.69"/><use href="#bs2" x="341.83" y="101.02"/><use href="#bs2" x="342.26" y="101.34"/><use href="#bs2" x="342.69" y="101.66"/><use href="#bs2" x="343.11" y="101.98"/><use href="#bs2" x="343.52" y="102.29"/><use href="#bs2" x="343.94" y="102.60"/><use href="#bs2" x="344.34" y="102.90"/><use href="#bs2" x="344.74" y="103.20"/><use href="#bs2" x="345.14" y="103.50"/><use href="#bs2" x="345.53" y="103.80"/><use href="#bs2" x="345.92" y="104.09"/><use href="#bs2" x="346.31" y="104.37"/><use href="#bs2" x="346.69" y="104.66"/><use href="#bs2" x="347.06" y="104.94"/><use href="#bs2" x="347.43" y="105.22"/><use href="#bs2" x="347.80" y="105.49"/><use href="#bs2" x="348.16" y="105.77"/><use href="#bs2" x="348.52" y="106.04"/><use href="#bs2" x="348.88" y="106.30"/><use href="#bs2" x="349.23" y="106.57"/><use href="#bs2" x="349.58" y="106.83"/><use href="#bs2" x="349.93" y="107.09"/><use href="#bs2" x="350.27" y="107.34"/><use href="#bs2" x="350.61" y="107.60"/><use href="#bs2" x="350.95" y="107.85"/><use href="#bs2" x="351.28" y="108.10"/><use href="#bs2" x="351.61" y="108.34"/><use href="#bs2" x="351.93" y="108.59"/><use href="#bs2" x="352.26" y="108.83"/><use href="#bs2" x="352.58" y="109.07"/><use href="#bs2" x="352.89" y="109.31"/><use href="#bs2" x="353.21" y="109.54"/><use href="#bs2" x="353.52" y="109.77"/><use href="#bs2" x="353.83" y="110.00"/><use href="#bs2" x="354.13" y="110.23"/><use href="#bs2" x="354.44" y="110.46"/><use href="#bs2" x="354.74" y="110.68"/><use href="#bs2" x="355.04" y="110.91"/><use href="#bs2" x="355.33" y="111.13"/><use href="#bs2" x="355.63" y="111.35"/><use href="#bs2" x="355.92" y="111.56"/><use href="#bs2" x="356.21" y="111.78"/><use href="#bs2" x="356.49" y="111.99"/><use href="#bs2" x="356.77" y="112.20"/><use href="#bs2" x="357.06" y="112.41"/><use href="#bs2" x="357.34" y="112.62"/><use href="#bs2" x="357.61" y="112.83"/><use href="#bs2" x="357.89" y="113.03"/><use href="#bs2" x="358.16" y="113.24"/><use href="#bs2" x="358.43" y="113.44"/><use href="#bs2" x="358.70" y="113.64"/><use href="#bs2" x="358.96" y="113.84"/><use href="#bs2" x="359.23" y="114.03"/><use href="#bs2" x="359.49" y="114.23"/><use href="#bs2" x="359.75" y="114.42"/><use href="#bs2" x="360.01" y="114.62"/><use href="#bs2" x="360.27" y="114.81"/><use href="#bs2" x="360.52" y="115.00"/><use href="#bs2" x="360.77" y="115.19"/><use href="#bs2" x="361.02" y="115.37"/><use href="#bs2" x="361.27" y="115.56"/><use href="#bs2" x="361.52" y="115.74"/><use href="#bs2" x="361.77" y="115.92"/><use href="#bs2" x="362.01" y="116.11"/><use href="#bs2" x="362.25" y="116.29"/><use href="#bs2" x="362.49" y="116.46"/><use href="#bs2" x="362.73" y="116.64"/><use href="#bs2" x="362.97" y="116.82"/><use href="#bs2" x="363.20" y="116.99"/><use href="#bs2" x="363.44" y="117.17"/><use href="#bs2" x="363.67" y="117.34"/><use href="#bs2" x="363.90" y="117.51"/><use href="#bs2" x="364.13" y="117.68"/><use href="#bs2" x="364.36" y="117.85"/><use href="#bs2" x="364.58" y="118.02"/><use href="#bs2" x="364.81" y="118.19"/><use href="#bs2" x="365.03" y="118.35"/><use href="#bs2" x="365.25" y="118.52"/><use href="#bs2" x="365.47" y="118.68"/><use href="#bs2" x="365.69" y="118.84"/><use href="#bs2" x="365.91" y="119.01"/><use href="#bs2" x="366.13" y="119.17"/><use href="#bs2" x="366.34" y="119.33"/><use href="#bs2" x="366.56" y="119.48"/><use href="#bs2" x="366.77" y="119.64"/><use href="#bs2" x="366.98" y="119.80"/><use href="#bs2" x="367.19" y="119.95"/><use href="#bs2" x="367.40" y="120.11"/><use href="#bs2" x="367.61" y="120.26"/><use href="#bs2" x="367.81" y="120.41"/><use href="#bs2" x="368.02" y="120.57"/><use href="#bs2" x="368.22" y="120.72"/><use href="#bs2" x="368.42" y="120.87"/><use href="#bs2" x="368.63" y="121.02"/><use href="#bs2" x="368.83" y="121.16"/><use href="#bs2" x="369.03" y="121.31"/><use href="#bs2" x="369.22" y="121.46"/><use href="#bs2" x="369.42" y="121.60"/><use href="#bs2" x="369.62" y="121.75"/><use href="#bs2" x="369.81" y="121.89"/><use href="#bs2" x="370.00" y="122.04"/><use href="#bs2" x="370.20" y="122.18"/><use href="#bs2" x="370.39" y="122.32"/><use href="#bs2" x="370.58" y="122.46"/><use href="#bs2" x="370.77" y="122.60"/><use href="#bs2" x="370.96" y="122.74"/><use href="#bs2" x="371.14" y="122.88"/><use href="#bs2" x="371.33" y="123.01"/><use href="#bs2" x="371.52" y="123.15"/><use href="#bs2" x="371.70" y="123.29"/><use href="#bs2" x="371.88" y="123.42"/><use href="#bs2" x="372.07" y="123.56"/><use href="#bs2" x="372.25" y="123.69"/><use href="#bs2" x="372.43" y="123.82"/><use href="#bs2" x="372.61" y="123.96"/><use href="#bs2" x="372.79" y="124.09"/><use href="#bs2" x="372.96" y="124.22"/><use href="#bs2" x="373.14" y="124.35"/><use href="#bs2" x="373.32" y="124.48"/><use href="#bs2" x="373.49" y="124.61"/><use href="#bs2" x="373.66" y="124.73"/><use href="#bs2" x="373.84" y="124.86"/><use href="#bs2" x="374.01" y="124.99"/><use href="#bs2" x="374.18" y="125.12"/><use href="#bs2" x="374.35" y="125.24"/><use href="#bs2" x="374.52" y="125.37"/><use href="#bs2" x="374.69" y="125.49"/><use href="#bs2" x="374.86" y="125.61"/><use href="#bs2" x="375.03" y="125.74"/><use href="#bs2" x="375.19" y="125.86"/><use href="#bs2" x="375.36" y="125.98"/><use href="#bs2" x="375.52" y="126.10"/><use href="#bs2" x="375.69" y="126.22"/><use href="#bs2" x="375.85" y="126.34"/><use href="#bs2" x="376.02" y="126.46"/><use href="#bs2" x="376.18" y="126.58"/><use href="#bs2" x="376.34" y="126.70"/><use href="#bs2" x="376.50" y="126.82"/><use href="#bs2" x="376.66" y="126.93"/><use href="#bs2" x="376.82" y="127.05"/><use href="#bs2" x="376.98" y="127.17"/><use href="#bs2" x="377.13" y="127.28"/><use href="#bs2" x="377.29" y="127.40"/><use href="#bs2" x="377.45" y="127.51"/><use href="#bs2" x="377.60" y="127.62"/><use href="#bs2" x="377.76" y="127.74"/><use href="#bs2" x="377.91" y="127.85"/><use href="#bs2" x="378.06" y="127.96"/><use href="#bs2" x="378.22" y="128.07"/><use href="#bs2" x="378.37" y="128.18"/><use href="#bs2" x="378.52" y="128.29"/><use href="#bs2" x="378.67" y="128.40"/><use href="#bs2" x="378.82" y="128.51"/><use href="#bs2" x="378.97" y="128.62"/><use href="#bs2" x="379.12" y="128.73"/><use href="#bs2" x="379.27" y="128.84"/><use href="#bs2" x="379.42" y="128.95"/><use href="#bs2" x="379.56" y="129.05"/><use href="#bs2" x="379.71" y="129.16"/><use href="#bs2" x="379.85" y="129.27"/><use href="#bs2" x="380.00" y="129.37"/><use href="#bs2" x="380.14" y="129.48"/><use href="#bs2" x="380.29" y="129.58"/><use href="#bs2" x="380.43" y="129.69"/><use href="#bs2" x="380.57" y="129.79"/><use href="#bs2" x="380.72" y="129.89"/><use href="#bs2" x="380.86" y="130.00"/><use href="#bs2" x="381.00" y="130.10"/><use href="#bs2" x="381.14" y="130.20"/><use href="#bs2" x="381.28" y="130.30"/><use href="#bs2" x="381.42" y="130.40"/><use href="#bs2" x="381.56" y="130.51"/><use href="#bs2" x="381.69" y="130.61"/><use href="#bs2" x="381.83" y="130.71"/><use href="#bs2" x="381.97" y="130.80"/><use href="#bs2" x="382.11" y="130.90"/><use href="#bs2" x="382.24" y="131.00"/><use href="#bs2" x="382.38" y="131.10"/><use href="#bs2" x="382.51" y="131.20"/><use href="#bs2" x="382.65" y="131.30"/><use href="#bs2" x="382.78" y="131.39"/><use href="#bs2" x="382.91" y="131.49"/><use href="#bs2" x="383.05" y="131.59"/><use href="#bs2" x="383.18" y="131.68"/><use href="#bs2" x="383.31" y="131.78"/><use href="#bs2" x="383.44" y="131.87"/><use href="#bs2" x="383.57" y="131.97"/><use href="#bs2" x="383.70" y="132.06"/><use href="#bs2" x="383.83" y="132.15"/><use href="#bs2" x="383.96" y="132.25"/><use href="#bs2" x="384.09" y="132.34"/><use href="#bs2" x="384.22" y="132.43"/><use href="#bs2" x="384.35" y="132.53"/><use href="#bs2" x="384.48" y="132.62"/><use href="#bs2" x="384.60" y="132.71"/><use href="#bs2" x="384.73" y="132.80"/><use href="#bs2" x="384.86" y="132.89"/><use href="#bs2" x="384.98" y="132.98"/><use href="#bs2" x="385.11" y="133.07"/><use href="#bs2" x="385.23" y="133.16"/><use href="#bs2" x="385.36" y="133.25"/><use href="#bs2" x="385.48" y="133.34"/><use href="#bs2" x="385.60" y="133.43"/><use href="#bs2" x="385.73" y="133.52"/><use href="#bs2" x="385.85" y="133.61"/><use href="#bs2" x="385.97" y="133.69"/><use href="#bs2" x="386.09" y="133.78"/><use href="#bs2" x="386.21" y="133.87"/><use href="#bs2" x="386.33" y="133.96"/><use href="#bs2" x="386.45" y="134.04"/><use href="#bs2" x="386.57" y="134.13"/><use href="#bs2" x="386.69" y="134.21"/><use href="#bs2" x="386.81" y="134.30"/><use href="#bs2" x="386.93" y="134.38"/><use href="#bs2" x="387.05" y="134.47"/><use href="#bs2" x="387.17" y="134.55"/><use href="#bs2" x="387.29" y="134.64"/><use href="#bs2" x="387.40" y="134.72"/><use href="#bs2" x="387.52" y="134.81"/><use href="#bs2" x="387.64" y="134.89"/><use href="#bs2" x="387.75" y="134.97"/><use href="#bs2" x="387.87" y="135.05"/><use href="#bs2" x="387.98" y="135.14"/><use href="#bs2" x="388.10" y="135.22"/><use href="#bs2" x="388.21" y="135.30"/><use href="#bs2" x="388.33" y="135.38"/><use href="#bs2" x="388.44" y="135.46"/><use href="#bs2" x="388.55" y="135.54"/><use href="#bs2" x="388.67" y="135.62"/><use href="#bs2" x="388.78" y="135.71"/><use href="#bs2" x="388.89" y="135.79"/><use href="#bs2" x="389.00" y="135.86"/><use href="#bs2" x="389.11" y="135.94"/><use href="#bs2" x="389.23" y="136.02"/><use href="#bs2" x="389.34" y="136.10"/><use href="#bs2" x="389.45" y="136.18"/><use href="#bs2" x="389.56" y="136.26"/><use href="#bs2" x="389.67" y="136.34"/><use href="#bs2" x="389.78" y="136.42"/><use href="#bs2" x="389.89" y="136.49"/><use href="#bs2" x="389.99" y="136.57"/><use href="#bs2" x="390.10" y="136.65"/><use href="#bs2" x="390.21" y="136.72"/><use href="#bs2" x="390.32" y="136.80"/><use href="#bs2" x="390.43" y="136.88"/><use href="#bs2" x="390.53" y="136.95"/><use href="#bs2" x="390.64" y="137.03"/><use href="#bs2" x="390.75" y="137.10"/><use href="#bs2" x="390.85" y="137.18"/><use href="#bs2" x="390.96" y="137.25"/><use href="#bs2" x="391.06" y="137.33"/><use href="#bs2" x="391.17" y="137.40"/><use href="#bs2" x="391.27" y="137.48"/><use href="#bs2" x="391.38" y="137.55"/><use href="#bs2" x="391.48" y="137.62"/><use href="#bs2" x="391.59" y="137.70"/><use href="#bs2" x="391.69" y="137.77"/><use href="#bs2" x="391.79" y="137.84"/><use href="#bs2" x="391.90" y="137.92"/><use href="#bs2" x="392.00" y="137.99"/><use href="#bs2" x="392.10" y="138.06"/><use href="#bs2" x="392.20" y="138.13"/><use href="#bs2" x="392.30" y="138.20"/><use href="#bs2" x="392.41" y="138.28"/><use href="#bs2" x="392.51" y="138.35"/><use href="#bs2" x="392.61" y="138.42"/><use href="#bs2" x="392.71" y="138.49"/><use href="#bs2" x="392.81" y="138.56"/><use href="#bs2" x="392.91" y="138.63"/><use href="#bs2" x="393.01" y="138.70"/><use href="#bs2" x="393.11" y="138.77"/><use href="#bs2" x="393.21" y="138.84"/><use href="#bs2" x="393.31" y="138.91"/><use href="#bs2" x="393.40" y="138.98"/><use href="#bs2" x="393.50" y="139.05"/><use href="#bs2" x="393.60" y="139.12"/><use href="#bs2" x="393.70" y="139.18"/><use href="#bs2" x="393.80" y="139.25"/><use href="#bs2" x="393.89" y="139.32"/><use href="#bs2" x="393.99" y="139.39"/><use href="#bs2" x="394.09" y="139.46"/><use href="#bs2" x="394.18" y="139.52"/><use href="#bs2" x="394.28" y="139.59"/><use href="#bs2" x="394.37" y="139.66"/><use href="#bs2" x="394.47" y="139.72"/><use href="#bs2" x="394.57" y="139.79"/><use href="#bs2" x="394.66" y="139.86"/><use href="#bs2" x="394.76" y="139.92"/><use href="#bs2" x="394.85" y="139.99"/><use href="#bs2" x="394.94" y="140.05"/><use href="#bs2" x="395.04" y="140.12"/><use href="#bs2" x="395.13" y="140.19"/><use href="#bs2" x="395.23" y="140.25"/><use href="#bs2" x="395.32" y="140.32"/><use href="#bs2" x="395.41" y="140.38"/><use href="#bs2" x="395.50" y="140.44"/><use href="#bs2" x="395.60" y="140.51"/><use href="#bs2" x="395.69" y="140.57"/><use href="#bs2" x="395.78" y="140.64"/><use href="#bs2" x="395.87" y="140.70"/><use href="#bs2" x="395.97" y="140.76"/><use href="#bs2" x="396.06" y="140.83"/><use href="#bs2" x="396.15" y="140.89"/><use href="#bs2" x="396.24" y="140.95"/><use href="#bs2" x="396.33" y="141.02"/><use href="#bs2" x="396.42" y="141.08"/><use href="#bs2" x="396.51" y="141.14"/><use href="#bs2" x="396.60" y="141.20"/><use href="#bs2" x="396.69" y="141.27"/><use href="#bs2" x="396.78" y="141.33"/><use href="#bs2" x="396.87" y="141.39"/><use href="#bs2" x="396.96" y="141.45"/><use href="#bs2" x="397.05" y="141.51"/><use href="#bs2" x="397.13" y="141.57"/><use href="#bs2" x="397.22" y="141.63"/><use href="#bs2" x="397.31" y="141.70"/><use href="#bs2" x="397.40" y="141.76"/><use href="#bs2" x="397.49" y="141.82"/><use href="#bs2" x="397.57" y="141.88"/><use href="#bs2" x="397.66" y="141.94"/><use href="#bs2" x="397.75" y="142.00"/><use href="#bs2" x="397.83" y="142.06"/><use href="#bs2" x="397.92" y="142.12"/><use href="#bs2" x="398.01" y="142.17"/><use href="#bs2" x="398.09" y="142.23"/><use href="#bs2" x="398.18" y="142.29"/><use href="#bs2" x="398.26" y="142.35"/><use href="#bs2" x="398.35" y="142.41"/><use href="#bs2" x="398.44" y="142.47"/><use href="#bs2" x="398.52" y="142.53"/><use href="#bs2" x="398.61" y="142.59"/><use href="#bs2" x="398.69" y="142.64"/><use href="#bs2" x="398.77" y="142.70"/><use href="#bs2" x="398.86" y="142.76"/><use href="#bs2" x="398.94" y="142.82"/><use href="#bs2" x="399.03" y="142.87"/><use href="#bs2" x="399.11" y="142.93"/><use href="#bs2" x="399.19" y="142.99"/><use href="#bs2" x="399.28" y="143.04"/><use href="#bs2" x="399.36" y="143.10"/><use href="#bs2" x="399.44" y="143.16"/><use href="#bs2" x="399.52" y="143.21"/><use href="#bs2" x="399.61" y="143.27"/><use href="#bs2" x="399.69" y="143.33"/><use href="#bs2" x="399.77" y="143.38"/><use href="#bs2" x="399.85" y="143.44"/><use href="#bs2" x="399.94" y="143.49"/><use href="#bs2" x="400.02" y="143.55"/><use href="#bs2" x="400.10" y="143.60"/><use href="#bs2" x="400.18" y="143.66"/><use href="#bs2" x="400.26" y="143.71"/><use href="#bs2" x="400.34" y="143.77"/><use href="#bs2" x="400.42" y="143.82"/><use href="#bs2" x="400.50" y="143.88"/><use href="#bs2" x="400.58" y="143.93"/><use href="#bs2" x="400.66" y="143.99"/><use href="#bs2" x="400.74" y="144.04"/><use href="#bs2" x="400.82" y="144.09"/><use href="#bs2" x="400.90" y="144.15"/><use href="#bs2" x="400.98" y="144.20"/><use href="#bs2" x="401.06" y="144.26"/><use href="#bs2" x="401.14" y="144.31"/><use href="#bs2" x="401.22" y="144.36"/><use href="#bs2" x="401.29" y="144.42"/><use href="#bs2" x="401.37" y="144.47"/><use href="#bs2" x="401.45" y="144.52"/><use href="#bs2" x="401.53" y="144.57"/><use href="#bs2" x="401.61" y="144.63"/><use href="#bs2" x="401.68" y="144.68"/><use href="#bs2" x="401.76" y="144.73"/><use href="#bs2" x="401.84" y="144.78"/><use href="#bs2" x="401.92" y="144.83"/><use href="#bs2" x="401.99" y="144.89"/><use href="#bs2" x="402.07" y="144.94"/><use href="#bs2" x="402.15" y="144.99"/><use href="#bs2" x="402.22" y="145.04"/><use href="#bs2" x="402.30" y="145.09"/><use href="#bs2" x="402.38" y="145.14"/><use href="#bs2" x="402.45" y="145.19"/><use href="#bs2" x="402.53" y="145.24"/><use href="#bs2" x="402.60" y="145.29"/><use href="#bs2" x="402.68" y="145.35"/><use href="#bs2" x="402.75" y="145.40"/><use href="#bs2" x="402.83" y="145.45"/><use href="#bs2" x="402.90" y="145.50"/><use href="#bs2" x="402.98" y="145.55"/><use href="#bs2" x="403.05" y="145.60"/><use href="#bs2" x="403.13" y="145.65"/><use href="#bs2" x="403.20" y="145.70"/><use href="#bs2" x="403.28" y="145.74"/><use href="#bs2" x="403.35" y="145.79"/><use href="#bs2" x="403.42" y="145.84"/><use href="#bs2" x="403.50" y="145.89"/><use href="#bs2" x="403.57" y="145.94"/><use href="#bs2" x="403.64" y="145.99"/><use href="#bs2" x="403.72" y="146.04"/><use href="#bs2" x="403.79" y="146.09"/><use href="#bs2" x="403.86" y="146.14"/><use href="#bs2" x="403.94" y="146.18"/><use href="#bs2" x="404.01" y="146.23"/><use href="#bs2" x="404.08" y="146.28"/><use href="#bs2" x="404.15" y="146.33"/><use href="#bs2" x="404.23" y="146.38"/><use href="#bs2" x="404.30" y="146.42"/><use href="#bs2" x="404.37" y="146.47"/><use href="#bs2" x="404.44" y="146.52"/><use href="#bs2" x="404.51" y="146.57"/><use href="#bs2" x="404.58" y="146.61"/><use href="#bs2" x="404.66" y="146.66"/><use href="#bs2" x="404.73" y="146.71"/><use href="#bs2" x="404.80" y="146.75"/><use href="#bs2" x="404.87" y="146.80"/><use href="#bs2" x="404.94" y="146.85"/><use href="#bs2" x="405.01" y="146.89"/><use href="#bs2" x="405.08" y="146.94"/><use href="#bs2" x="405.15" y="146.99"/><use href="#bs2" x="405.22" y="147.03"/><use href="#bs2" x="405.29" y="147.08"/><use href="#bs2" x="405.36" y="147.12"/><use href="#bs2" x="405.43" y="147.17"/><use href="#bs2" x="405.50" y="147.22"/></g>
<g><use href="#ps" x="251.83" y="33.30"/><use href="#ps" x="257.19" y="37.33"/><use href="#ps" x="261.83" y="40.83"/><use href="#ps" x="265.92" y="43.91"/><use href="#ps" x="269.58" y="46.66"/><use href="#ps" x="272.89" y="49.16"/><use href="#ps" x="275.92" y="51.43"/><use href="#ps" x="278.70" y="53.53"/><use href="#ps" x="281.27" y="55.47"/><use href="#ps" x="283.67" y="57.27"/><use href="#ps" x="285.91" y="58.96"/><use href="#ps" x="288.02" y="60.55"/><use href="#ps" x="290.00" y="62.04"/><use href="#ps" x="291.88" y="63.46"/><use href="#ps" x="293.66" y="64.80"/><use href="#ps" x="295.36" y="66.08"/><use href="#ps" x="296.98" y="67.29"/><use href="#ps" x="298.52" y="68.46"/><use href="#ps" x="300.00" y="69.57"/><use href="#ps" x="301.42" y="70.64"/><use href="#ps" x="302.78" y="71.66"/><use href="#ps" x="304.09" y="72.65"/><use href="#ps" x="305.36" y="73.60"/><use href="#ps" x="306.57" y="74.52"/><use href="#ps" x="307.75" y="75.41"/><use href="#ps" x="308.89" y="76.26"/><use href="#ps" x="309.99" y="77.10"/><use href="#ps" x="311.06" y="77.90"/><use href="#ps" x="312.10" y="78.68"/><use href="#ps" x="313.11" y="79.44"/><use href="#ps" x="314.09" y="80.18"/><use href="#ps" x="315.04" y="80.89"/><use href="#ps" x="315.97" y="81.59"/><use href="#ps" x="316.87" y="82.27"/><use href="#ps" x="317.75" y="82.93"/><use href="#ps" x="318.61" y="83.58"/><use href="#ps" x="319.44" y="84.21"/><use href="#ps" x="320.26" y="84.82"/><use href="#ps" x="321.06" y="85.43"/><use href="#ps" x="321.84" y="86.01"/><use href="#ps" x="322.60" y="86.59"/><use href="#ps" x="323.35" y="87.15"/><use href="#ps" x="324.08" y="87.70"/><use href="#ps" x="324.80" y="88.24"/><use href="#ps" x="325.50" y="88.77"/><use href="#ps" x="326.19" y="89.29"/><use href="#ps" x="326.86" y="89.80"/><use href="#ps" x="327.52" y="90.30"/><use href="#ps" x="328.17" y="90.78"/><use href="#ps" x="328.81" y="91.26"/><use href="#ps" x="329.44" y="91.74"/><use href="#ps" x="330.05" y="92.20"/><use href="#ps" x="330.66" y="92.65"/><use href="#ps" x="331.25" y="93.10"/><use href="#ps" x="331.83" y="93.54"/><use href="#ps" x="332.41" y="93.97"/><use href="#ps" x="332.97" y="94.40"/><use href="#ps" x="333.53" y="94.82"/><use href="#ps" x="334.08" y="95.23"/><use href="#ps" x="334.62" y="95.63"/><use href="#ps" x="335.15" y="96.03"/><use href="#ps" x="335.67" y="96.43"/><use href="#ps" x="336.18" y="96.82"/><use href="#ps" x="336.69" y="97.20"/><use href="#ps" x="337.19" y="97.57"/><use href="#ps" x="337.68" y="97.94"/><use href="#ps" x="338.17" y="98.31"/><use href="#ps" x="338.65" y="98.67"/><use href="#ps" x="339.12" y="99.03"/><use href="#ps" x="339.59" y="99.38"/><use href="#ps" x="340.05" y="99.73"/><use href="#ps" x="340.50" y="100.07"/><use href="#ps" x="340.95" y="100.40"/><use href="#ps" x="341.39" y="100.74"/><use href="#ps" x="341.83" y="101.07"/><use href="#ps" x="342.26" y="101.39"/><use href="#ps" x="342.69" y="101.71"/><use href="#ps" x="343.11" y="102.03"/><use href="#ps" x="343.52" y="102.34"/><use href="#ps" x="343.94" y="102.65"/><use href="#ps" x="344.34" y="102.96"/><use href="#ps" x="344.74" y="103.26"/><use href="#ps" x="345.14" y="103.56"/><use href="#ps" x="345.53" y="103.86"/><use href="#ps" x="345.92" y="104.15"/><use href="#ps" x="346.31" y="104.44"/><use href="#ps" x="346.69" y="104.72"/><use href="#ps" x="347.06" y="105.01"/><use href="#ps" x="347.43" y="105.29"/><use href="#ps" x="347.80" y="105.56"/><use href="#ps" x="348.16" y="105.84"/><use href="#ps" x="348.52" y="106.11"/><use href="#ps" x="348.88" y="106.38"/><use href="#ps" x="349.23" y="106.64"/><use href="#ps" x="349.58" y="106.90"/><use href="#ps" x="349.93" y="107.17"/><use href="#ps" x="350.27" y="107.42"/><use href="#ps" x="350.61" y="107.68"/><use href="#ps" x="350.95" y="107.93"/><use href="#ps" x="351.28" y="108.18"/><use href="#ps" x="351.61" y="108.43"/><use href="#ps" x="351.93" y="108.67"/><use href="#ps" x="352.26" y="108.92"/><use href="#ps" x="352.58" y="109.16"/><use href="#ps" x="352.89" y="109.40"/><use href="#ps" x="353.21" y="109.64"/><use href="#ps" x="353.52" y="109.87"/><use href="#ps" x="353.83" y="110.10"/><use href="#ps" x="354.13" y="110.33"/><use href="#ps" x="354.44" y="110.56"/><use href="#ps" x="354.74" y="110.79"/><use href="#ps" x="355.04" y="111.01"/><use href="#ps" x="355.33" y="111.24"/><use href="#ps" x="355.63" y="111.46"/><use href="#ps" x="355.92" y="111.67"/><use href="#ps" x="356.21" y="111.89"/><use href="#ps" x="356.49" y="112.11"/><use href="#ps" x="356.77" y="112.32"/><use href="#ps" x="357.06" y="112.53"/><use href="#ps" x="357.34" y="112.74"/><use href="#ps" x="357.61" y="112.95"/><use href="#ps" x="357.89" y="113.16"/><use href="#ps" x="358.16" y="113.36"/><use href="#ps" x="358.43" y="113.57"/><use href="#ps" x="358.70" y="113.77"/><use href="#ps" x="358.96" y="113.97"/><use href="#ps" x="359.23" y="114.17"/><use href="#ps" x="359.49" y="114.37"/><use href="#ps" x="359.75" y="114.56"/><use href="#ps" x="360.01" y="114.76"/><use href="#ps" x="360.27" y="114.95"/><use href="#ps" x="360.52" y="115.14"/><use href="#ps" x="360.77" y="115.33"/><use href="#ps" x="361.02" y="115.52"/><use href="#ps" x="361.27" y="115.71"/><use href="#ps" x="361.52" y="115.89"/><use href="#ps" x="361.77" y="116.08"/><use href="#ps" x="362.01" y="116.26"/><use href="#ps" x="362.25" y="116.44"/><use href="#ps" x="362.49" y="116.63"/><use href="#ps" x="362.73" y="116.81"/><use href="#ps" x="362.97" y="116.98"/><use href="#ps" x="363.20" y="117.16"/><use href="#ps" x="363.44" y="117.34"/><use href="#ps" x="363.67" y="117.51"/><use href="#ps" x="363.90" y="117.69"/><use href="#ps" x="364.13" y="117.86"/><use href="#ps" x="364.36" y="118.03"/><use href="#ps" x="364.58" y="118.20"/><use href="#ps" x="364.81" y="118.37"/><use href="#ps" x="365.03" y="118.54"/><use href="#ps" x="365.25" y="118.71"/><use href="#ps" x="365.47" y="118.87"/><use href="#ps" x="365.69" y="119.04"/><use href="#ps" x="365.91" y="119.20"/><use href="#ps" x="366.13" y="119.36"/><use href="#ps" x="366.34" y="119.53"/><use href="#ps" x="366.56" y="119.69"/><use href="#ps" x="366.77" y="119.85"/><use href="#ps" x="366.98" y="120.01"/><use href="#ps" x="367.19" y="120.16"/><use href="#ps" x="367.40" y="120.32"/><use href="#ps" x="367.61" y="120.48"/><use href="#ps" x="367.81" y="120.63"/><use href="#ps" x="368.02" y="120.79"/><use href="#ps" x="368.22" y="120.94"/><use href="#ps" x="368.42" y="121.09"/><use href="#ps" x="368.63" y="121.24"/><use href="#ps" x="368.83" y="121.40"/><use href="#ps" x="369.03" y="121.55"/><use href="#ps" x="369.22" y="121.69"/><use href="#ps" x="369.42" y="121.84"/><use href="#ps" x="369.62" y="121.99"/><use href="#ps" x="369.81" y="122.14"/><use href="#ps" x="370.00" y="122.28"/><use href="#ps" x="370.20" y="122.43"/><use href="#ps" x="370.39" y="122.57"/><use href="#ps" x="370.58" y="122.71"/><use href="#ps" x="370.77" y="122.86"/><use href="#ps" x="370.96" y="123.00"/><use href="#ps" x="371.14" y="123.14"/><use href="#ps" x="371.33" y="123.28"/><use href="#ps" x="371.52" y="123.42"/><use href="#ps" x="371.70" y="123.56"/><use href="#ps" x="371.88" y="123.70"/><use href="#ps" x="372.07" y="123.83"/><use href="#ps" x="372.25" y="123.97"/><use href="#ps" x="372.43" y="124.11"/><use href="#ps" x="372.61" y="124.24"/><use href="#ps" x="372.79" y="124.38"/><use href="#ps" x="372.96" y="124.51"/><use href="#ps" x="373.14" y="124.64"/><use href="#ps" x="373.32" y="124.78"/><use href="#ps" x="373.49" y="124.91"/><use href="#ps" x="373.66" y="125.04"/><use href="#ps" x="373.84" y="125.17"/><use href="#ps" x="374.01" y="125.30"/><use href="#ps" x="374.18" y="125.43"/><use href="#ps" x="374.35" y="125.56"/><use href="#ps" x="374.52" y="125.68"/><use href="#ps" x="374.69" y="125.81"/><use href="#ps" x="374.86" y="125.94"/><use href="#ps" x="375.03" y="126.06"/><use href="#ps" x="375.19" y="126.19"/><use href="#ps" x="375.36" y="126.32"/><use href="#ps" x="375.52" y="126.44"/><use href="#ps" x="375.69" y="126.56"/><use href="#ps" x="375.85" y="126.69"/><use href="#ps" x="376.02" y="126.81"/><use href="#ps" x="376.18" y="126.93"/><use href="#ps" x="376.34" y="127.05"/><use href="#ps" x="376.50" y="127.17"/><use href="#ps" x="376.66" y="127.29"/><use href="#ps" x="376.82" y="127.41"/><use href="#ps" x="376.98" y="127.53"/><use href="#ps" x="377.13" y="127.65"/><use href="#ps" x="377.29" y="127.77"/><use href="#ps" x="377.45" y="127.89"/><use href="#ps" x="377.60" y="128.00"/><use href="#ps" x="377.76" y="128.12"/><use href="#ps" x="377.91" y="128.24"/><use href="#ps" x="378.06" y="128.35"/><use href="#ps" x="378.22" y="128.47"/><use href="#ps" x="378.37" y="128.58"/><use href="#ps" x="378.52" y="128.70"/><use href="#ps" x="378.67" y="128.81"/><use href="#ps" x="378.82" y="128.92"/><use href="#ps" x="378.97" y="129.03"/><use href="#ps" x="379.12" y="129.15"/><use href="#ps" x="379.27" y="129.26"/><use href="#ps" x="379.42" y="129.37"/><use href="#ps" x="379.56" y="129.48"/><use href="#ps" x="379.71" y="129.59"/><use href="#ps" x="379.85" y="129.70"/><use href="#ps" x="380.00" y="129.81"/><use href="#ps" x="380.14" y="129.92"/><use href="#ps" x="380.29" y="130.03"/><use href="#ps" x="380.43" y="130.13"/><use href="#ps" x="380.57" y="130.24"/><use href="#ps" x="380.72" y="130.35"/><use href="#ps" x="380.86" y="130.45"/><use href="#ps" x="381.00" y="130.56"/><use href="#ps" x="381.14" y="130.67"/><use href="#ps" x="381.28" y="130.77"/><use href="#ps" x="381.42" y="130.88"/><use href="#ps" x="381.56" y="130.98"/><use href="#ps" x="381.69" y="131.09"/><use href="#ps" x="381.83" y="131.19"/><use href="#ps" x="381.97" y="131.29"/><use href="#ps" x="382.11" y="131.39"/><use href="#ps" x="382.24" y="131.50"/><use href="#ps" x="382.38" y="131.60"/><use href="#ps" x="382.51" y="131.70"/><use href="#ps" x="382.65" y="131.80"/><use href="#ps" x="382.78" y="131.90"/><use href="#ps" x="382.91" y="132.00"/><use href="#ps" x="383.05" y="132.10"/><use href="#ps" x="383.18" y="132.20"/><use href="#ps" x="383.31" y="132.30"/><use href="#ps" x="383.44" y="132.40"/><use href="#ps" x="383.57" y="132.50"/><use href="#ps" x="383.70" y="132.60"/><use href="#ps" x="383.83" y="132.70"/><use href="#ps" x="383.96" y="132.79"/><use href="#ps" x="384.09" y="132.89"/><use href="#ps" x="384.22" y="132.99"/><use href="#ps" x="384.35" y="133.08"/><use href="#ps" x="384.48" y="133.18"/><use href="#ps" x="384.60" y="133.27"/><use href="#ps" x="384.73" y="133.37"/><use href="#ps" x="384.86" y="133.47"/><use href="#ps" x="384.98" y="133.56"/><use href="#ps" x="385.11" y="133.65"/><use href="#ps" x="385.23" y="133.75"/><use href="#ps" x="385.36" y="133.84"/><use href="#ps" x="385.48" y="133.93"/><use href="#ps" x="385.60" y="134.03"/><use href="#ps" x="385.73" y="134.12"/><use href="#ps" x="385.85" y="134.21"/><use href="#ps" x="385.97" y="134.30"/><use href="#ps" x="386.09" y="134.40"/><use href="#ps" x="386.21" y="134.49"/><use href="#ps" x="386.33" y="134.58"/><use href="#ps" x="386.45" y="134.67"/><use href="#ps" x="386.57" y="134.76"/><use href="#ps" x="386.69" y="134.85"/><use href="#ps" x="386.81" y="134.94"/><use href="#ps" x="386.93" y="135.03"/><use href="#ps" x="387.05" y="135.12"/><use href="#ps" x="387.17" y="135.21"/><use href="#ps" x="387.29" y="135.30"/><use href="#ps" x="387.40" y="135.38"/><use href="#ps" x="387.52" y="135.47"/><use href="#ps" x="387.64" y="135.56"/><use href="#ps" x="387.75" y="135.65"/><use href="#ps" x="387.87" y="135.73"/><use href="#ps" x="387.98" y="135.82"/><use href="#ps" x="388.10" y="135.91"/><use href="#ps" x="388.21" y="135.99"/><use href="#ps" x="388.33" y="136.08"/><use href="#ps" x="388.44" y="136.16"/><use href="#ps" x="388.55" y="136.25"/><use href="#ps" x="388.67" y="136.34"/><use href="#ps" x="388.78" y="136.42"/><use href="#ps" x="388.89" y="136.50"/><use href="#ps" x="389.00" y="136.59"/><use href="#ps" x="389.11" y="136.67"/><use href="#ps" x="389.23" y="136.76"/><use href="#ps" x="389.34" y="136.84"/><use href="#ps" x="389.45" y="136.92"/><use href="#ps" x="389.56" y="137.01"/><use href="#ps" x="389.67" y="137.09"/><use href="#ps" x="389.78" y="137.17"/><use href="#ps" x="389.89" y="137.25"/><use href="#ps" x="389.99" y="137.34"/><use href="#ps" x="390.10" y="137.42"/><use href="#ps" x="390.21" y="137.50"/><use href="#ps" x="390.32" y="137.58"/><use href="#ps" x="390.43" y="137.66"/><use href="#ps" x="390.53" y="137.74"/><use href="#ps" x="390.64" y="137.82"/><use href="#ps" x="390.75" y="137.90"/><use href="#ps" x="390.85" y="137.98"/><use href="#ps" x="390.96" y="138.06"/><use href="#ps" x="391.06" y="138.14"/><use href="#ps" x="391.17" y="138.22"/><use href="#ps" x="391.27" y="138.30"/><use href="#ps" x="391.38" y="138.38"/><use href="#ps" x="391.48" y="138.46"/><use href="#ps" x="391.59" y="138.53"/><use href="#ps" x="391.69" y="138.61"/><use href="#ps" x="391.79" y="138.69"/><use href="#ps" x="391.90" y="138.77"/><use href="#ps" x="392.00" y="138.84"/><use href="#ps" x="392.10" y="138.92"/><use href="#ps" x="392.20" y="139.00"/><use href="#ps" x="392.30" y="139.07"/><use href="#ps" x="392.41" y="139.15"/><use href="#ps" x="392.51" y="139.23"/><use href="#ps" x="392.61" y="139.30"/><use href="#ps" x="392.71" y="139.38"/><use href="#ps" x="392.81" y="139.45"/><use href="#ps" x="392.91" y="139.53"/><use href="#ps" x="393.01" y="139.60"/><use href="#ps" x="393.11" y="139.68"/><use href="#ps" x="393.21" y="139.75"/><use href="#ps" x="393.31" y="139.83"/><use href="#ps" x="393.40" y="139.90"/><use href="#ps" x="393.50" y="139.98"/><use href="#ps" x="393.60" y="140.05"/><use href="#ps" x="393.70" y="140.12"/><use href="#ps" x="393.80" y="140.20"/><use href="#ps" x="393.89" y="140.27"/><use href="#ps" x="393.99" y="140.34"/><use href="#ps" x="394.09" y="140.42"/><use href="#ps" x="394.18" y="140.49"/><use href="#ps" x="394.28" y="140.56"/><use href="#ps" x="394.37" y="140.63"/><use href="#ps" x="394.47" y="140.71"/><use href="#ps" x="394.57" y="140.78"/><use href="#ps" x="394.66" y="140.85"/><use href="#ps" x="394.76" y="140.92"/><use href="#ps" x="394.85" y="140.99"/><use href="#ps" x="394.94" y="141.06"/><use href="#ps" x="395.04" y="141.13"/><use href="#ps" x="395.13" y="141.20"/><use href="#ps" x="395.23" y="141.27"/><use href="#ps" x="395.32" y="141.34"/><use href="#ps" x="395.41" y="141.41"/><use href="#ps" x="395.50" y="141.48"/><use href="#ps" x="395.60" y="141.55"/><use href="#ps" x="395.69" y="141.62"/><use href="#ps" x="395.78" y="141.69"/><use href="#ps" x="395.87" y="141.76"/><use href="#ps" x="395.97" y="141.83"/><use href="#ps" x="396.06" y="141.90"/><use href="#ps" x="396.15" y="141.97"/><use href="#ps" x="396.24" y="142.04"/><use href="#ps" x="396.33" y="142.10"/><use href="#ps" x="396.42" y="142.17"/><use href="#ps" x="396.51" y="142.24"/><use href="#ps" x="396.60" y="142.31"/><use href="#ps" x="396.69" y="142.38"/><use href="#ps" x="396.78" y="142.44"/><use href="#ps" x="396.87" y="142.51"/><use href="#ps" x="396.96" y="142.58"/><use href="#ps" x="397.05" y="142.64"/><use href="#ps" x="397.13" y="142.71"/><use href="#ps" x="397.22" y="142.78"/><use href="#ps" x="397.31" y="142.84"/><use href="#ps" x="397.40" y="142.91"/><use href="#ps" x="397.49" y="142.98"/><use href="#ps" x="397.57" y="143.04"/><use href="#ps" x="397.66" y="143.11"/><use href="#ps" x="397.75" y="143.17"/><use href="#ps" x="397.83" y="143.24"/><use href="#ps" x="397.92" y="143.30"/><use href="#ps" x="398.01" y="143.37"/><use href="#ps" x="398.09" y="143.43"/><use href="#ps" x="398.18" y="143.50"/><use href="#ps" x="398.26" y="143.56"/><use href="#ps" x="398.35" y="143.63"/><use href="#ps" x="398.44" y="143.69"/><use href="#ps" x="398.52" y="143.76"/><use href="#ps" x="398.61" y="143.82"/><use href="#ps" x="398.69" y="143.88"/><use href="#ps" x="398.77" y="143.95"/><use href="#ps" x="398.86" y="144.01"/><use href="#ps" x="398.94" y="144.07"/><use href="#ps" x="399.03" y="144.14"/><use href="#ps" x="399.11" y="144.20"/><use href="#ps" x="399.19" y="144.26"/><use href="#ps" x="399.28" y="144.32"/><use href="#ps" x="399.36" y="144.39"/><use href="#ps" x="399.44" y="144.45"/><use href="#ps" x="399.52" y="144.51"/><use href="#ps" x="399.61" y="144.57"/><use href="#ps" x="399.69" y="144.64"/><use href="#ps" x="399.77" y="144.70"/><use href="#ps" x="399.85" y="144.76"/><use href="#ps" x="399.94" y="144.82"/><use href="#ps" x="400.02" y="144.88"/><use href="#ps" x="400.10" y="144.94"/><use href="#ps" x="400.18" y="145.00"/><use href="#ps" x="400.26" y="145.06"/><use href="#ps" x="400.34" y="145.13"/><use href="#ps" x="400.42" y="145.19"/><use href="#ps" x="400.50" y="145.25"/><use href="#ps" x="400.58" y="145.31"/><use href="#ps" x="400.66" y="145.37"/><use href="#ps" x="400.74" y="145.43"/><use href="#ps" x="400.82" y="145.49"/><use href="#ps" x="400.90" y="145.55"/><use href="#ps" x="400.98" y="145.61"/><use href="#ps" x="401.06" y="145.67"/><use href="#ps" x="401.14" y="145.73"/><use href="#ps" x="401.22" y="145.79"/><use href="#ps" x="401.29" y="145.84"/><use href="#ps" x="401.37" y="145.90"/><use href="#ps" x="401.45" y="145.96"/><use href="#ps" x="401.53" y="146.02"/><use href="#ps" x="401.61" y="146.08"/><use href="#ps" x="401.68" y="146.14"/><use href="#ps" x="401.76" y="146.20"/><use href="#ps" x="401.84" y="146.25"/><use href="#ps" x="401.92" y="146.31"/><use href="#ps" x="401.99" y="146.37"/><use href="#ps" x="402.07" y="146.43"/><use href="#ps" x="402.15" y="146.49"/><use href="#ps" x="402.22" y="146.54"/><use href="#ps" x="402.30" y="146.60"/><use href="#ps" x="402.38" y="146.66"/><use href="#ps" x="402.45" y="146.72"/><use href="#ps" x="402.53" y="146.77"/><use href="#ps" x="402.60" y="146.83"/><use href="#ps" x="402.68" y="146.89"/><use href="#ps" x="402.75" y="146.94"/><use href="#ps" x="402.83" y="147.00"/><use href="#ps" x="402.90" y="147.06"/><use href="#ps" x="402.98" y="147.11"/><use href="#ps" x="403.05" y="147.17"/><use href="#ps" x="403.13" y="147.22"/><use href="#ps" x="403.20" y="147.28"/><use href="#ps" x="403.28" y="147.34"/><use href="#ps" x="403.35" y="147.39"/><use href="#ps" x="403.42" y="147.45"/><use href="#ps" x="403.50" y="147.50"/><use href="#ps" x="403.57" y="147.56"/><use href="#ps" x="403.64" y="147.61"/><use href="#ps" x="403.72" y="147.67"/><use href="#ps" x="403.79" y="147.72"/><use href="#ps" x="403.86" y="147.78"/><use href="#ps" x="403.94" y="147.83"/><use href="#ps" x="404.01" y="147.89"/><use href="#ps" x="404.08" y="147.94"/><use href="#ps" x="404.15" y="148.00"/><use href="#ps" x="404.23" y="148.05"/><use href="#ps" x="404.30" y="148.11"/><use href="#ps" x="404.37" y="148.16"/><use href="#ps" x="404.44" y="148.21"/><use href="#ps" x="404.51" y="148.27"/><use href="#ps" x="404.58" y="148.32"/><use href="#ps" x="404.66" y="148.38"/><use href="#ps" x="404.73" y="148.43"/><use href="#ps" x="404.80" y="148.48"/><use href="#ps" x="404.87" y="148.54"/><use href="#ps" x="404.94" y="148.59"/><use href="#ps" x="405.01" y="148.64"/><use href="#ps" x="405.08" y="148.69"/><use href="#ps" x="405.15" y="148.75"/><use href="#ps" x="405.22" y="148.80"/><use href="#ps" x="405.29" y="148.85"/><use href="#ps" x="405.36" y="148.91"/><use href="#ps" x="405.43" y="148.96"/><use href="#ps" x="405.50" y="149.01"/></g>
<g><use href="#mk2" x="251.83" y="33.30"/><use href="#mk2" x="257.19" y="37.33"/><use href="#mk2" x="261.83" y="40.83"/><use href="#mk2" x="265.92" y="43.91"/><use href="#mk2" x="269.58" y="46.66"/><use href="#mk2" x="272.89" y="49.16"/><use href="#mk2" x="275.92" y="51.43"/><use href="#mk2" x="278.70" y="53.53"/><use href="#mk2" x="281.27" y="55.47"/><use href="#mk2" x="283.67" y="57.27"/><use href="#mk2" x="285.91" y="58.96"/><use href="#mk2" x="288.02" y="60.55"/><use href="#mk2" x="290.00" y="62.04"/><use href="#mk2" x="291.88" y="63.46"/><use href="#mk2" x="293.66" y="64.80"/><use href="#mk2" x="295.36" y="66.08"/><use href="#mk2" x="296.98" y="67.29"/><use href="#mk2" x="298.52" y="68.46"/><use href="#mk2" x="300.00" y="69.57"/><use href="#mk2" x="301.42" y="70.64"/><use href="#mk2" x="302.78" y="71.66"/><use href="#mk2" x="304.09" y="72.65"/><use href="#mk2" x="305.36" y="73.60"/><use href="#mk2" x="306.57" y="74.52"/><use href="#mk2" x="307.75" y="75.41"/><use href="#mk2" x="308.89" y="76.26"/><use href="#mk2" x="309.99" y="77.10"/><use href="#mk2" x="311.06" y="77.90"/><use href="#mk2" x="312.10" y="78.68"/><use href="#mk2" x="313.11" y="79.44"/><use href="#mk2" x="314.09" y="80.18"/><use href="#mk2" x="315.04" y="80.89"/><use href="#mk2" x="315.97" y="81.59"/><use href="#mk2" x="316.87" y="82.27"/><use href="#mk2" x="317.75" y="82.93"/><use href="#mk2" x="318.61" y="83.58"/><use href="#mk2" x="319.44" y="84.21"/><use href="#mk2" x="320.26" y="84.82"/><use href="#mk2" x="321.06" y="85.43"/><use href="#mk2" x="321.84" y="86.01"/><use href="#mk2" x="322.60" y="86.59"/><use href="#mk2" x="323.35" y="87.15"/><use href="#mk2" x="324.08" y="87.70"/><use href="#mk2" x="324.80" y="88.24"/><use href="#mk2" x="325.50" y="88.77"/><use href="#mk2" x="326.19" y="89.29"/><use href="#mk2" x="326.86" y="89.80"/><use href="#mk2" x="327.52" y="90.30"/><use href="#mk2" x="328.17" y="90.78"/><use href="#mk2" x="328.81" y="91.26"/><use href="#mk2" x="329.44" y="91.74"/><use href="#mk2" x="330.05" y="92.20"/><use href="#mk2" x="330.66" y="92.65"/><use href="#mk2" x="331.25" y="93.10"/><use href="#mk2" x="331.83" y="93.54"/><use href="#mk2" x="332.41" y="93.97"/><use href="#mk2" x="332.97" y="94.40"/><use href="#mk2" x="333.53" y="94.82"/><use href="#mk2" x="334.08" y="95.23"/><use href="#mk2" x="334.62" y="95.63"/><use href="#mk2" x="335.15" y="96.03"/><use href="#mk2" x="335.67" y="96.43"/><use href="#mk2" x="336.18" y="96.82"/><use href="#mk2" x="336.69" y="97.20"/><use href="#mk2" x="337.19" y="97.57"/><use href="#mk2" x="337.68" y="97.94"/><use href="#mk2" x="338.17" y="98.31"/><use href="#mk2" x="338.65" y="98.67"/><use href="#mk2" x="339.12" y="99.03"/><use href="#mk2" x="339.59" y="99.38"/><use href="#mk2" x="340.05" y="99.73"/><use href="#mk2" x="340.50" y="100.07"/><use href="#mk2" x="340.95" y="100.40"/><use href="#mk2" x="341.39" y="100.74"/><use href="#mk2" x="341.83" y="101.07"/><use href="#mk2" x="342.26" y="101.39"/><use href="#mk2" x="342.69" y="101.71"/><use href="#mk2" x="343.11" y="102.03"/><use href="#mk2" x="343.52" y="102.34"/><use href="#mk2" x="343.94" y="102.65"/><use href="#mk2" x="344.34" y="102.96"/><use href="#mk2" x="344.74" y="103.26"/><use href="#mk2" x="345.14" y="103.56"/><use href="#mk2" x="345.53" y="103.86"/><use href="#mk2" x="345.92" y="104.15"/><use href="#mk2" x="346.31" y="104.44"/><use href="#mk2" x="346.69" y="104.72"/><use href="#mk2" x="347.06" y="105.01"/><use href="#mk2" x="347.43" y="105.29"/><use href="#mk2" x="347.80" y="105.56"/><use href="#mk2" x="348.16" y="105.84"/><use href="#mk2" x="348.52" y="106.11"/><use href="#mk2" x="348.88" y="106.38"/><use href="#mk2" x="349.23" y="106.64"/><use href="#mk2" x="349.58" y="106.90"/><use href="#mk2" x="349.93" y="107.17"/><use href="#mk2" x="350.27" y="107.42"/><use href="#mk2" x="350.61" y="107.68"/><use href="#mk2" x="350.95" y="107.93"/><use href="#mk2" x="351.28" y="108.18"/><use href="#mk2" x="351.61" y="108.43"/><use href="#mk2" x="351.93" y="108.67"/><use href="#mk2" x="352.26" y="108.92"/><use href="#mk2" x="352.58" y="109.16"/><use href="#mk2" x="352.89" y="109.40"/><use href="#mk2" x="353.21" y="109.64"/><use href="#mk2" x="353.52" y="109.87"/><use href="#mk2" x="353.83" y="110.10"/><use href="#mk2" x="354.13" y="110.33"/><use href="#mk2" x="354.44" y="110.56"/><use href="#mk2" x="354.74" y="110.79"/><use href="#mk2" x="355.04" y="111.01"/><use href="#mk2" x="355.33" y="111.24"/><use href="#mk2" x="355.63" y="111.46"/><use href="#mk2" x="355.92" y="111.67"/><use href="#mk2" x="356.21" y="111.89"/><use href="#mk2" x="356.49" y="112.11"/><use href="#mk2" x="356.77" y="112.32"/><use href="#mk2" x="357.06" y="112.53"/><use href="#mk2" x="357.34" y="112.74"/><use href="#mk2" x="357.61" y="112.95"/><use href="#mk2" x="357.89" y="113.16"/><use href="#mk2" x="358.16" y="113.36"/><use href="#mk2" x="358.43" y="113.57"/><use href="#mk2" x="358.70" y="113.77"/><use href="#mk2" x="358.96" y="113.97"/><use href="#mk2" x="359.23" y="114.17"/><use href="#mk2" x="359.49" y="114.37"/><use href="#mk2" x="359.75" y="114.56"/><use href="#mk2" x="360.01" y="114.76"/><use href="#mk2" x="360.27" y="114.95"/><use href="#mk2" x="360.52" y="115.14"/><use href="#mk2" x="360.77" y="115.33"/><use href="#mk2" x="361.02" y="115.52"/><use href="#mk2" x="361.27" y="115.71"/><use href="#mk2" x="361.52" y="115.89"/><use href="#mk2" x="361.77" y="116.08"/><use href="#mk2" x="362.01" y="116.26"/><use href="#mk2" x="362.25" y="116.44"/><use href="#mk2" x="362.49" y="116.63"/><use href="#mk2" x="362.73" y="116.81"/><use href="#mk2" x="362.97" y="116.98"/><use href="#mk2" x="363.20" y="117.16"/><use href="#mk2" x="363.44" y="117.34"/><use href="#mk2" x="363.67" y="117.51"/><use href="#mk2" x="363.90" y="117.69"/><use href="#mk2" x="364.13" y="117.86"/><use href="#mk2" x="364.36" y="118.03"/><use href="#mk2" x="364.58" y="118.20"/><use href="#mk2" x="364.81" y="118.37"/><use href="#mk2" x="365.03" y="118.54"/><use href="#mk2" x="365.25" y="118.71"/><use href="#mk2" x="365.47" y="118.87"/><use href="#mk2" x="365.69" y="119.04"/><use href="#mk2" x="365.91" y="119.20"/><use href="#mk2" x="366.13" y="119.36"/><use href="#mk2" x="366.34" y="119.53"/><use href="#mk2" x="366.56" y="119.69"/><use href="#mk2" x="366.77" y="119.85"/><use href="#mk2" x="366.98" y="120.01"/><use href="#mk2" x="367.19" y="120.16"/><use href="#mk2" x="367.40" y="120.32"/><use href="#mk2" x="367.61" y="120.48"/><use href="#mk2" x="367.81" y="120.63"/><use href="#mk2" x="368.02" y="120.79"/><use href="#mk2" x="368.22" y="120.94"/><use href="#mk2" x="368.42" y="121.09"/><use href="#mk2" x="368.63" y="121.24"/><use href="#mk2" x="368.83" y="121.40"/><use href="#mk2" x="369.03" y="121.55"/><use href="#mk2" x="369.22" y="121.69"/><use href="#mk2" x="369.42" y="121.84"/><use href="#mk2" x="369.62" y="121.99"/><use href="#mk2" x="369.81" y="122.14"/><use href="#mk2" x="370.00" y="122.28"/><use href="#mk2" x="370.20" y="122.43"/><use href="#mk2" x="370.39" y="122.57"/><use href="#mk2" x="370.58" y="122.71"/><use href="#mk2" x="370.77" y="122.86"/><use href="#mk2" x="370.96" y="123.00"/><use href="#mk2" x="371.14" y="123.14"/><use href="#mk2" x="371.33" y="123.28"/><use href="#mk2" x="371.52" y="123.42"/><use href="#mk2" x="371.70" y="123.56"/><use href="#mk2" x="371.88" y="123.70"/><use href="#mk2" x="372.07" y="123.83"/><use href="#mk2" x="372.25" y="123.97"/><use href="#mk2" x="372.43" y="124.11"/><use href="#mk2" x="372.61" y="124.24"/><use href="#mk2" x="372.79" y="124.38"/><use href="#mk2" x="372.96" y="124.51"/><use href="#mk2" x="373.14" y="124.64"/><use href="#mk2" x="373.32" y="124.78"/><use href="#mk2" x="373.49" y="124.91"/><use href="#mk2" x="373.66" y="125.04"/><use href="#mk2" x="373.84" y="125.17"/><use href="#mk2" x="374.01" y="125.30"/><use href="#mk2" x="374.18" y="125.43"/><use href="#mk2" x="374.35" y="125.56"/><use href="#mk2" x="374.52" y="125.68"/><use href="#mk2" x="374.69" y="125.81"/><use href="#mk2" x="374.86" y="125.94"/><use href="#mk2" x="375.03" y="126.06"/><use href="#mk2" x="375.19" y="126.19"/><use href="#mk2" x="375.36" y="126.32"/><use href="#mk2" x="375.52" y="126.44"/><use href="#mk2" x="375.69" y="126.56"/><use href="#mk2" x="375.85" y="126.69"/><use href="#mk2" x="376.02" y="126.81"/><use href="#mk2" x="376.18" y="126.93"/><use href="#mk2" x="376.34" y="127.05"/><use href="#mk2" x="376.50" y="127.17"/><use href="#mk2" x="376.66" y="127.29"/><use href="#mk2" x="376.82" y="127.41"/><use href="#mk2" x="376.98" y="127.53"/><use href="#mk2" x="377.13" y="127.65"/><use href="#mk2" x="377.29" y="127.77"/><use href="#mk2" x="377.45" y="127.89"/><use href="#mk2" x="377.60" y="128.00"/><use href="#mk2" x="377.76" y="128.12"/><use href="#mk2" x="377.91" y="128.24"/><use href="#mk2" x="378.06" y="128.35"/><use href="#mk2" x="378.22" y="128.47"/><use href="#mk2" x="378.37" y="128.58"/><use href="#mk2" x="378.52" y="128.70"/><use href="#mk2" x="378.67" y="128.81"/><use href="#mk2" x="378.82" y="128.92"/><use href="#mk2" x="378.97" y="129.03"/><use href="#mk2" x="379.12" y="129.15"/><use href="#mk2" x="379.27" y="129.26"/><use href="#mk2" x="379.42" y="129.37"/><use href="#mk2" x="379.56" y="129.48"/><use href="#mk2" x="379.71" y="129.59"/><use href="#mk2" x="379.85" y="129.70"/><use href="#mk2" x="380.00" y="129.81"/><use href="#mk2" x="380.14" y="129.92"/><use href="#mk2" x="380.29" y="130.03"/><use href="#mk2" x="380.43" y="130.13"/><use href="#mk2" x="380.57" y="130.24"/><use href="#mk2" x="380.72" y="130.35"/><use href="#mk2" x="380.86" y="130.45"/><use href="#mk2" x="381.00" y="130.56"/><use href="#mk2" x="381.14" y="130.67"/><use href="#mk2" x="381.28" y="130.77"/><use href="#mk2" x="381.42" y="130.88"/><use href="#mk2" x="381.56" y="130.98"/><use href="#mk2" x="381.69" y="131.09"/><use href="#mk2" x="381.83" y="131.19"/><use href="#mk2" x="381.97" y="131.29"/><use href="#mk2" x="382.11" y="131.39"/><use href="#mk2" x="382.24" y="131.50"/><use href="#mk2" x="382.38" y="131.60"/><use href="#mk2" x="382.51" y="131.70"/><use href="#mk2" x="382.65" y="131.80"/><use href="#mk2" x="382.78" y="131.90"/><use href="#mk2" x="382.91" y="132.00"/><use href="#mk2" x="383.05" y="132.10"/><use href="#mk2" x="383.18" y="132.20"/><use href="#mk2" x="383.31" y="132.30"/><use href="#mk2" x="383.44" y="132.40"/><use href="#mk2" x="383.57" y="132.50"/><use href="#mk2" x="383.70" y="132.60"/><use href="#mk2" x="383.83" y="132.70"/><use href="#mk2" x="383.96" y="132.79"/><use href="#mk2" x="384.09" y="132.89"/><use href="#mk2" x="384.22" y="132.99"/><use href="#mk2" x="384.35" y="133.08"/><use href="#mk2" x="384.48" y="133.18"/><use href="#mk2" x="384.60" y="133.27"/><use href="#mk2" x="384.73" y="133.37"/><use href="#mk2" x="384.86" y="133.47"/><use href="#mk2" x="384.98" y="133.56"/><use href="#mk2" x="385.11" y="133.65"/><use href="#mk2" x="385.23" y="133.75"/><use href="#mk2" x="385.36" y="133.84"/><use href="#mk2" x="385.48" y="133.93"/><use href="#mk2" x="385.60" y="134.03"/><use href="#mk2" x="385.73" y="134.12"/><use href="#mk2" x="385.85" y="134.21"/><use href="#mk2" x="385.97" y="134.30"/><use href="#mk2" x="386.09" y="134.40"/><use href="#mk2" x="386.21" y="134.49"/><use href="#mk2" x="386.33" y="134.58"/><use href="#mk2" x="386.45" y="134.67"/><use href="#mk2" x="386.57" y="134.76"/><use href="#mk2" x="386.69" y="134.85"/><use href="#mk2" x="386.81" y="134.94"/><use href="#mk2" x="386.93" y="135.03"/><use href="#mk2" x="387.05" y="135.12"/><use href="#mk2" x="387.17" y="135.21"/><use href="#mk2" x="387.29" y="135.30"/><use href="#mk2" x="387.40" y="135.38"/><use href="#mk2" x="387.52" y="135.47"/><use href="#mk2" x="387.64" y="135.56"/><use href="#mk2" x="387.75" y="135.65"/><use href="#mk2" x="387.87" y="135.73"/><use href="#mk2" x="387.98" y="135.82"/><use href="#mk2" x="388.10" y="135.91"/><use href="#mk2" x="388.21" y="135.99"/><use href="#mk2" x="388.33" y="136.08"/><use href="#mk2" x="388.44" y="136.16"/><use href="#mk2" x="388.55" y="136.25"/><use href="#mk2" x="388.67" y="136.34"/><use href="#mk2" x="388.78" y="136.42"/><use href="#mk2" x="388.89" y="136.50"/><use href="#mk2" x="389.00" y="136.59"/><use href="#mk2" x="389.11" y="136.67"/><use href="#mk2" x="389.23" y="136.76"/><use href="#mk2" x="389.34" y="136.84"/><use href="#mk2" x="389.45" y="136.92"/><use href="#mk2" x="389.56" y="137.01"/><use href="#mk2" x="389.67" y="137.09"/><use href="#mk2" x="389.78" y="137.17"/><use href="#mk2" x="389.89" y="137.25"/><use href="#mk2" x="389.99" y="137.34"/><use href="#mk2" x="390.10" y="137.42"/><use href="#mk2" x="390.21" y="137.50"/><use href="#mk2" x="390.32" y="137.58"/><use href="#mk2" x="390.43" y="137.66"/><use href="#mk2" x="390.53" y="137.74"/><use href="#mk2" x="390.64" y="137.82"/><use href="#mk2" x="390.75" y="137.90"/><use href="#mk2" x="390.85" y="137.98"/><use href="#mk2" x="390.96" y="138.06"/><use href="#mk2" x="391.06" y="138.14"/><use href="#mk2" x="391.17" y="138.22"/><use href="#mk2" x="391.27" y="138.30"/><use href="#mk2" x="391.38" y="138.38"/><use href="#mk2" x="391.48" y="138.46"/><use href="#mk2" x="391.59" y="138.53"/><use href="#mk2" x="391.69" y="138.61"/><use href="#mk2" x="391.79" y="138.69"/><use href="#mk2" x="391.90" y="138.77"/><use href="#mk2" x="392.00" y="138.84"/><use href="#mk2" x="392.10" y="138.92"/><use href="#mk2" x="392.20" y="139.00"/><use href="#mk2" x="392.30" y="139.07"/><use href="#mk2" x="392.41" y="139.15"/><use href="#mk2" x="392.51" y="139.23"/><use href="#mk2" x="392.61" y="139.30"/><use href="#mk2" x="392.71" y="139.38"/><use href="#mk2" x="392.81" y="139.45"/><use href="#mk2" x="392.91" y="139.53"/><use href="#mk2" x="393.01" y="139.60"/><use href="#mk2" x="393.11" y="139.68"/><use href="#mk2" x="393.21" y="139.75"/><use href="#mk2" x="393.31" y="139.83"/><use href="#mk2" x="393.40" y="139.90"/><use href="#mk2" x="393.50" y="139.98"/><use href="#mk2" x="393.60" y="140.05"/><use href="#mk2" x="393.70" y="140.12"/><use href="#mk2" x="393.80" y="140.20"/><use href="#mk2" x="393.89" y="140.27"/><use href="#mk2" x="393.99" y="140.34"/><use href="#mk2" x="394.09" y="140.42"/><use href="#mk2" x="394.18" y="140.49"/><use href="#mk2" x="394.28" y="140.56"/><use href="#mk2" x="394.37" y="140.63"/><use href="#mk2" x="394.47" y="140.71"/><use href="#mk2" x="394.57" y="140.78"/><use href="#mk2" x="394.66" y="140.85"/><use href="#mk2" x="394.76" y="140.92"/><use href="#mk2" x="394.85" y="140.99"/><use href="#mk2" x="394.94" y="141.06"/><use href="#mk2" x="395.04" y="141.13"/><use href="#mk2" x="395.13" y="141.20"/><use href="#mk2" x="395.23" y="141.27"/><use href="#mk2" x="395.32" y="141.34"/><use href="#mk2" x="395.41" y="141.41"/><use href="#mk2" x="395.50" y="141.48"/><use href="#mk2" x="395.60" y="141.55"/><use href="#mk2" x="395.69" y="141.62"/><use href="#mk2" x="395.78" y="141.69"/><use href="#mk2" x="395.87" y="141.76"/><use href="#mk2" x="395.97" y="141.83"/><use href="#mk2" x="396.06" y="141.90"/><use href="#mk2" x="396.15" y="141.97"/><use href="#mk2" x="396.24" y="142.04"/><use href="#mk2" x="396.33" y="142.10"/><use href="#mk2" x="396.42" y="142.17"/><use href="#mk2" x="396.51" y="142.24"/><use href="#mk2" x="396.60" y="142.31"/><use href="#mk2" x="396.69" y="142.38"/><use href="#mk2" x="396.78" y="142.44"/><use href="#mk2" x="396.87" y="142.51"/><use href="#mk2" x="396.96" y="142.58"/><use href="#mk2" x="397.05" y="142.64"/><use href="#mk2" x="397.13" y="142.71"/><use href="#mk2" x="397.22" y="142.78"/><use href="#mk2" x="397.31" y="142.84"/><use href="#mk2" x="397.40" y="142.91"/><use href="#mk2" x="397.49" y="142.98"/><use href="#mk2" x="397.57" y="143.04"/><use href="#mk2" x="397.66" y="143.11"/><use href="#mk2" x="397.75" y="143.17"/><use href="#mk2" x="397.83" y="143.24"/><use href="#mk2" x="397.92" y="143.30"/><use href="#mk2" x="398.01" y="143.37"/><use href="#mk2" x="398.09" y="143.43"/><use href="#mk2" x="398.18" y="143.50"/><use href="#mk2" x="398.26" y="143.56"/><use href="#mk2" x="398.35" y="143.63"/><use href="#mk2" x="398.44" y="143.69"/><use href="#mk2" x="398.52" y="143.76"/><use href="#mk2" x="398.61" y="143.82"/><use href="#mk2" x="398.69" y="143.88"/><use href="#mk2" x="398.77" y="143.95"/><use href="#mk2" x="398.86" y="144.01"/><use href="#mk2" x="398.94" y="144.07"/><use href="#mk2" x="399.03" y="144.14"/><use href="#mk2" x="399.11" y="144.20"/><use href="#mk2" x="399.19" y="144.26"/><use href="#mk2" x="399.28" y="144.32"/><use href="#mk2" x="399.36" y="144.39"/><use href="#mk2" x="399.44" y="144.45"/><use href="#mk2" x="399.52" y="144.51"/><use href="#mk2" x="399.61" y="144.57"/><use href="#mk2" x="399.69" y="144.64"/><use href="#mk2" x="399.77" y="144.70"/><use href="#mk2" x="399.85" y="144.76"/><use href="#mk2" x="399.94" y="144.82"/><use href="#mk2" x="400.02" y="144.88"/><use href="#mk2" x="400.10" y="144.94"/><use href="#mk2" x="400.18" y="145.00"/><use href="#mk2" x="400.26" y="145.06"/><use href="#mk2" x="400.34" y="145.13"/><use href="#mk2" x="400.42" y="145.19"/><use href="#mk2" x="400.50" y="145.25"/><use href="#mk2" x="400.58" y="145.31"/><use href="#mk2" x="400.66" y="145.37"/><use href="#mk2" x="400.74" y="145.43"/><use href="#mk2" x="400.82" y="145.49"/><use href="#mk2" x="400.90" y="145.55"/><use href="#mk2" x="400.98" y="145.61"/><use href="#mk2" x="401.06" y="145.67"/><use href="#mk2" x="401.14" y="145.73"/><use href="#mk2" x="401.22" y="145.79"/><use href="#mk2" x="401.29" y="145.84"/><use href="#mk2" x="401.37" y="145.90"/><use href="#mk2" x="401.45" y="145.96"/><use href="#mk2" x="401.53" y="146.02"/><use href="#mk2" x="401.61" y="146.08"/><use href="#mk2" x="401.68" y="146.14"/><use href="#mk2" x="401.76" y="146.20"/><use href="#mk2" x="401.84" y="146.25"/><use href="#mk2" x="401.92" y="146.31"/><use href="#mk2" x="401.99" y="146.37"/><use href="#mk2" x="402.07" y="146.43"/><use href="#mk2" x="402.15" y="146.49"/><use href="#mk2" x="402.22" y="146.54"/><use href="#mk2" x="402.30" y="146.60"/><use href="#mk2" x="402.38" y="146.66"/><use href="#mk2" x="402.45" y="146.72"/><use href="#mk2" x="402.53" y="146.77"/><use href="#mk2" x="402.60" y="146.83"/><use href="#mk2" x="402.68" y="146.89"/><use href="#mk2" x="402.75" y="146.94"/><use href="#mk2" x="402.83" y="147.00"/><use href="#mk2" x="402.90" y="147.06"/><use href="#mk2" x="402.98" y="147.11"/><use href="#mk2" x="403.05" y="147.17"/><use href="#mk2" x="403.13" y="147.22"/><use href="#mk2" x="403.20" y="147.28"/><use href="#mk2" x="403.28" y="147.34"/><use href="#mk2" x="403.35" y="147.39"/><use href="#mk2" x="403.42" y="147.45"/><use href="#mk2" x="403.50" y="147.50"/><use href="#mk2" x="403.57" y="147.56"/><use href="#mk2" x="403.64" y="147.61"/><use href="#mk2" x="403.72" y="147.67"/><use href="#mk2" x="403.79" y="147.72"/><use href="#mk2" x="403.86" y="147.78"/><use href="#mk2" x="403.94" y="147.83"/><use href="#mk2" x="404.01" y="147.89"/><use href="#mk2" x="404.08" y="147.94"/><use href="#mk2" x="404.15" y="148.00"/><use href="#mk2" x="404.23" y="148.05"/><use href="#mk2" x="404.30" y="148.11"/><use href="#mk2" x="404.37" y="148.16"/><use href="#mk2" x="404.44" y="148.21"/><use href="#mk2" x="404.51" y="148.27"/><use href="#mk2" x="404.58" y="148.32"/><use href="#mk2" x="404.66" y="148.38"/><use href="#mk2" x="404.73" y="148.43"/><use href="#mk2" x="404.80" y="148.48"/><use href="#mk2" x="404.87" y="148.54"/><use href="#mk2" x="404.94" y="148.59"/><use href="#mk2" x="405.01" y="148.64"/><use href="#mk2" x="405.08" y="148.69"/><use href="#mk2" x="405.15" y="148.75"/><use href="#mk2" x="405.22" y="148.80"/><use href="#mk2" x="405.29" y="148.85"/><use href="#mk2" x="405.36" y="148.91"/><use href="#mk2" x="405.43" y="148.96"/><use href="#mk2" x="405.50" y="149.01"/></g>
<path d="M245.50,28.53L405.50,149.01" stroke="#000" stroke-width="1.35" fill="none"/>
</g>
<rect x="245.5" y="11.5" width="160.0" height="151.0" fill="none" stroke="#000" stroke-width="0.62"/>
<g font-family="Liberation Serif, serif" fill="#1a1a1a"><text x="70" y="265.20" text-anchor="end" font-size="13.7">0</text><text x="70" y="230.38" text-anchor="end" font-size="13.7">0.0002</text><text x="70" y="195.57" text-anchor="end" font-size="13.7">0.0004</text><text x="70" y="160.75" text-anchor="end" font-size="13.7">0.0006</text><text x="70" y="125.94" text-anchor="end" font-size="13.7">0.0008</text><text x="70" y="91.12" text-anchor="end" font-size="13.7">0.001</text><text x="70" y="56.30" text-anchor="end" font-size="13.7">0.0012</text><text x="70" y="21.49" text-anchor="end" font-size="13.7">0.0014</text><text x="105.90" y="279.3" text-anchor="middle" font-size="13.7">50</text><text x="141.56" y="279.3" text-anchor="middle" font-size="13.7">100</text><text x="177.21" y="279.3" text-anchor="middle" font-size="13.7">150</text><text x="212.86" y="279.3" text-anchor="middle" font-size="13.7">200</text><text x="248.52" y="279.3" text-anchor="middle" font-size="13.7">250</text><text x="284.17" y="279.3" text-anchor="middle" font-size="13.7">300</text><text x="319.83" y="279.3" text-anchor="middle" font-size="13.7">350</text><text x="355.48" y="279.3" text-anchor="middle" font-size="13.7">400</text><text x="391.14" y="279.3" text-anchor="middle" font-size="13.7">450</text><text x="426.79" y="279.3" text-anchor="middle" font-size="13.7">500</text><text transform="translate(252.9,299.7) scale(1.14,1)" text-anchor="middle" font-size="14.5" font-style="italic">N</text><g transform="translate(10,153.7) rotate(-90)"><text x="-0.5" y="0" font-size="15.3" font-style="italic">F</text><text x="7.6" y="2.8" font-size="10.8" font-style="italic">N</text><path d="M20,-3.9h8.6M24.3,-8.2v8.6" stroke="#222" stroke-width="0.8"/><text x="34.8" y="0" font-size="14.5" font-style="italic">c</text><text x="40.6" y="2.4" font-size="10">0</text></g><text transform="translate(95.8,14.80) scale(1.12,1)" font-size="12.3" font-style="italic">h</text><path d="M106.7,10.20h9.6M106.7,13.20h9.6" stroke="#222" stroke-width="0.8"/><text x="120" y="14.80" font-size="12">10</text><path d="M133.7,7.50h6.2" stroke="#222" stroke-width="0.75"/><text x="141" y="10.60" font-size="9">3</text><text transform="translate(95.8,28.70) scale(1.12,1)" font-size="12.3" font-style="italic">h</text><path d="M106.7,24.10h9.6M106.7,27.10h9.6" stroke="#222" stroke-width="0.8"/><text x="120" y="28.70" font-size="12">10</text><path d="M133.7,21.40h6.2" stroke="#222" stroke-width="0.75"/><text x="141" y="24.50" font-size="9">4</text><text transform="translate(95.8,42.60) scale(1.12,1)" font-size="12.3" font-style="italic">h</text><path d="M106.7,38.00h9.6M106.7,41.00h9.6" stroke="#222" stroke-width="0.8"/><text x="120" y="42.60" font-size="12">10</text><path d="M133.7,35.30h6.2" stroke="#222" stroke-width="0.75"/><text x="141" y="38.40" font-size="9">5</text><text x="145" y="56.50" text-anchor="end" font-size="12.5">Mink.</text></g>
<use href="#gx" x="156.5" y="11.3"/><use href="#bs" x="156.5" y="25.3"/><g transform="translate(156.5,39.15)"><rect x="-2.7" y="-2.35" width="5.4" height="4.7" stroke="#f58282" stroke-width="1.6" fill="none"/><rect x="-0.45" y="-1.6" width="0.9" height="1.3" fill="#f58282"/></g><use href="#mk" x="156.5" y="53"/>
<g font-family="Liberation Serif, serif" fill="#222"><text x="216.7" y="15.80" font-size="9">10</text><path d="M226.2,10.50h5.5" stroke="#222" stroke-width="0.55"/><text x="232.8" y="12.00" font-size="6.8">2</text><text x="216.7" y="45.92" font-size="9">10</text><path d="M226.2,40.62h5.5" stroke="#222" stroke-width="0.55"/><text x="232.8" y="42.12" font-size="6.8">3</text><text x="216.7" y="76.04" font-size="9">10</text><path d="M226.2,70.74h5.5" stroke="#222" stroke-width="0.55"/><text x="232.8" y="72.24" font-size="6.8">4</text><text x="216.7" y="106.16" font-size="9">10</text><path d="M226.2,100.86h5.5" stroke="#222" stroke-width="0.55"/><text x="232.8" y="102.36" font-size="6.8">5</text><text x="216.7" y="136.28" font-size="9">10</text><path d="M226.2,130.98h5.5" stroke="#222" stroke-width="0.55"/><text x="232.8" y="132.48" font-size="6.8">6</text><text x="216.7" y="166.40" font-size="9">10</text><path d="M226.2,161.10h5.5" stroke="#222" stroke-width="0.55"/><text x="232.8" y="162.60" font-size="6.8">7</text><text x="245.50" y="172.9" text-anchor="middle" font-size="9">10</text><text x="325.50" y="172.9" text-anchor="middle" font-size="9">100</text><text x="405.50" y="172.9" text-anchor="middle" font-size="9">1000</text><text transform="translate(325.4,186.8) scale(1.15,1)" text-anchor="middle" font-size="8.8" font-style="italic">N</text><g transform="translate(204.7,116.9) rotate(-90)" font-style="italic"><text x="0" y="0" font-size="9.3">F</text><text x="4.5" y="1.7" font-size="6.4">N</text><path d="M15.2,-2.3h5M17.7,-4.8v5" stroke="#222" stroke-width="0.55"/><text x="24" y="0" font-size="9.3">c</text><text x="27.8" y="1.7" font-size="6.4" font-style="normal">0</text><path d="M35.9,-2.3h5.3" stroke="#222" stroke-width="0.55"/><text x="44.3" y="0" font-size="9.3">h</text><text x="49.2" y="0" font-size="9.3">ϵ</text><text x="53.2" y="1.7" font-size="6.4">B</text></g></g>
</svg></body></html>
